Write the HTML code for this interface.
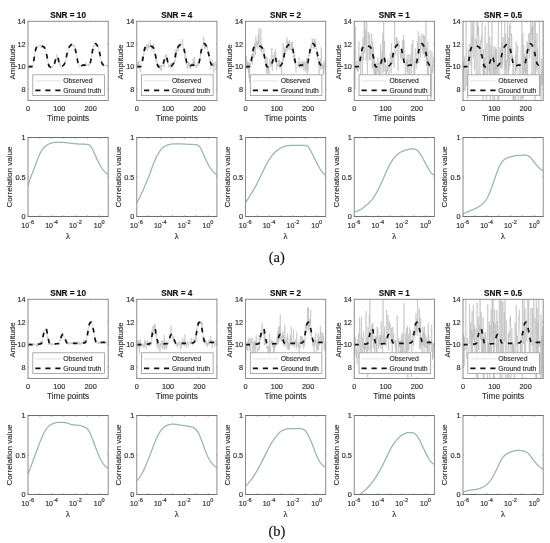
<!DOCTYPE html><html><head><meta charset="utf-8"><style>html,body{margin:0;padding:0;background:#fff;}svg{display:block;}</style></head><body>
<svg width="550" height="543" viewBox="0 0 550 543">
<rect width="550" height="543" fill="#fff"/>
<defs>
<clipPath id="c00"><rect x="28" y="21.3" width="80.2" height="79.2"/></clipPath>
<clipPath id="c01"><rect x="136.75" y="21.3" width="80.2" height="79.2"/></clipPath>
<clipPath id="c02"><rect x="245.5" y="21.3" width="80.2" height="79.2"/></clipPath>
<clipPath id="c03"><rect x="354.25" y="21.3" width="80.2" height="79.2"/></clipPath>
<clipPath id="c04"><rect x="463" y="21.3" width="80.2" height="79.2"/></clipPath>
<clipPath id="c10"><rect x="28" y="137.5" width="80.2" height="79"/></clipPath>
<clipPath id="c11"><rect x="136.75" y="137.5" width="80.2" height="79"/></clipPath>
<clipPath id="c12"><rect x="245.5" y="137.5" width="80.2" height="79"/></clipPath>
<clipPath id="c13"><rect x="354.25" y="137.5" width="80.2" height="79"/></clipPath>
<clipPath id="c14"><rect x="463" y="137.5" width="80.2" height="79"/></clipPath>
<clipPath id="c20"><rect x="28" y="299.3" width="80.2" height="79.2"/></clipPath>
<clipPath id="c21"><rect x="136.75" y="299.3" width="80.2" height="79.2"/></clipPath>
<clipPath id="c22"><rect x="245.5" y="299.3" width="80.2" height="79.2"/></clipPath>
<clipPath id="c23"><rect x="354.25" y="299.3" width="80.2" height="79.2"/></clipPath>
<clipPath id="c24"><rect x="463" y="299.3" width="80.2" height="79.2"/></clipPath>
<clipPath id="c30"><rect x="28" y="415.5" width="80.2" height="79"/></clipPath>
<clipPath id="c31"><rect x="136.75" y="415.5" width="80.2" height="79"/></clipPath>
<clipPath id="c32"><rect x="245.5" y="415.5" width="80.2" height="79"/></clipPath>
<clipPath id="c33"><rect x="354.25" y="415.5" width="80.2" height="79"/></clipPath>
<clipPath id="c34"><rect x="463" y="415.5" width="80.2" height="79"/></clipPath>
</defs>
<style>
.ti{font-family:"Liberation Sans", Arial, Helvetica, sans-serif;font-size:8.2px;font-weight:bold;fill:#111;stroke:#111;stroke-width:0.15;text-anchor:middle}
.yl{font-family:"Liberation Sans", Arial, Helvetica, sans-serif;font-size:7.3px;fill:#333333;stroke:#333333;stroke-width:0.18;text-anchor:end}
.xl{font-family:"Liberation Sans", Arial, Helvetica, sans-serif;font-size:7.3px;fill:#333333;stroke:#333333;stroke-width:0.18;text-anchor:middle}
.sp{font-size:5.6px}
.xe{font-size:7px}
.lb{font-family:"Liberation Sans", Arial, Helvetica, sans-serif;font-size:8.2px;fill:#2a2a2a;stroke:#2a2a2a;stroke-width:0.12;text-anchor:middle}
.lt{font-family:"Liberation Sans", Arial, Helvetica, sans-serif;font-size:6.8px;fill:#333;stroke:#333;stroke-width:0.15}
.lam{font-family:"Liberation Serif", "Times New Roman", serif;font-size:8.3px;fill:#333;stroke:#333;stroke-width:0.2;text-anchor:middle}
.ax{fill:none;stroke:#8c8c8c;stroke-width:1}
.tk{fill:none;stroke:#8c8c8c;stroke-width:0.8}
.mt{fill:none;stroke:#888;stroke-width:0.4}
.hx{fill:none;stroke:#6e6e6e;stroke-width:1.05}
.lg{fill:#fff;stroke:#999;stroke-width:0.8}
.ob{fill:none;stroke:#b8b8b8;stroke-width:0.55;stroke-linejoin:round}
.obl{stroke:#d6d6d6;stroke-width:0.7}
.gt{fill:none;stroke:#111;stroke-width:1.7;stroke-dasharray:4.6 5.4}
.gtl{stroke:#111;stroke-width:1.7;stroke-dasharray:5.2 4.8}
.cv{fill:none;stroke:#95b5b8;stroke-width:1.25;stroke-linejoin:round}
.cap{font-family:"Liberation Serif", "Times New Roman", serif;font-size:14.5px;fill:#111;stroke:#111;stroke-width:0.15;text-anchor:middle}
</style>
<text x="68.1" y="17.7" class="ti">SNR = 10</text>
<g clip-path="url(#c00)">
<polyline points="28.00,67.19 28.31,66.74 28.63,67.30 28.94,68.41 29.25,66.88 29.57,67.25 29.88,65.54 30.19,67.74 30.51,67.50 30.82,65.20 31.13,67.70 31.45,66.27 31.76,67.32 32.07,66.58 32.39,66.48 32.70,65.32 33.01,64.89 33.33,62.89 33.64,60.88 33.95,60.42 34.27,57.95 34.58,56.27 34.89,52.91 35.21,52.47 35.52,50.93 35.83,49.36 36.15,48.32 36.46,46.66 36.77,47.34 37.09,45.82 37.40,45.78 37.71,46.01 38.02,46.38 38.34,47.19 38.65,46.24 38.96,45.25 39.28,45.06 39.59,45.29 39.90,45.04 40.22,46.44 40.53,45.12 40.84,45.68 41.16,48.13 41.47,46.42 41.78,46.41 42.10,46.44 42.41,46.72 42.72,46.70 43.04,46.41 43.35,47.53 43.66,48.03 43.98,46.11 44.29,47.27 44.60,48.34 44.92,48.31 45.23,49.36 45.54,50.15 45.86,50.79 46.17,52.80 46.48,54.10 46.80,54.92 47.11,56.06 47.42,58.81 47.74,60.13 48.05,62.35 48.36,63.53 48.68,67.04 48.99,65.47 49.30,65.36 49.62,66.24 49.93,68.29 50.24,67.59 50.56,66.35 50.87,68.57 51.18,67.54 51.50,66.67 51.81,67.62 52.12,67.03 52.44,67.62 52.75,65.90 53.06,66.36 53.38,65.59 53.69,65.42 54.00,65.39 54.32,64.26 54.63,61.71 54.94,59.25 55.26,62.69 55.57,60.59 55.88,58.96 56.20,57.83 56.51,56.02 56.82,54.38 57.14,55.79 57.45,57.47 57.76,57.02 58.08,58.94 58.39,59.94 58.70,62.84 59.01,62.10 59.33,62.95 59.64,64.79 59.95,65.44 60.27,63.21 60.58,66.20 60.89,67.45 61.21,66.70 61.52,67.29 61.83,65.83 62.15,66.06 62.46,66.25 62.77,66.50 63.09,65.23 63.40,65.64 63.71,64.54 64.03,65.40 64.34,64.19 64.65,63.26 64.97,60.92 65.28,62.59 65.59,60.71 65.91,59.57 66.22,58.95 66.53,54.89 66.85,54.73 67.16,54.72 67.47,52.32 67.79,51.30 68.10,50.91 68.41,47.28 68.73,47.20 69.04,46.96 69.35,46.57 69.67,45.47 69.98,46.84 70.29,45.43 70.61,45.34 70.92,44.15 71.23,45.37 71.55,45.75 71.86,43.12 72.17,44.76 72.49,45.85 72.80,44.76 73.11,45.09 73.43,45.78 73.74,46.42 74.05,45.03 74.37,47.14 74.68,46.67 74.99,45.87 75.31,49.21 75.62,50.61 75.93,50.50 76.25,54.55 76.56,56.05 76.87,56.41 77.19,56.33 77.50,61.28 77.81,63.11 78.12,62.68 78.44,63.63 78.75,64.92 79.06,66.38 79.38,66.74 79.69,65.76 80.00,66.90 80.32,66.48 80.63,65.55 80.94,65.86 81.26,65.94 81.57,66.01 81.88,65.76 82.20,65.62 82.51,64.57 82.82,64.99 83.14,64.52 83.45,66.55 83.76,65.22 84.08,65.37 84.39,64.63 84.70,66.87 85.02,64.63 85.33,65.11 85.64,63.42 85.96,62.31 86.27,64.97 86.58,64.77 86.90,65.82 87.21,65.62 87.52,65.47 87.84,64.97 88.15,64.18 88.46,64.06 88.78,66.46 89.09,63.89 89.40,64.41 89.72,63.80 90.03,64.09 90.34,61.74 90.66,60.92 90.97,59.68 91.28,58.74 91.60,53.46 91.91,53.05 92.22,51.62 92.54,51.81 92.85,49.04 93.16,47.52 93.48,47.49 93.79,44.79 94.10,45.16 94.42,44.96 94.73,45.05 95.04,46.54 95.36,43.38 95.67,43.21 95.98,44.01 96.30,45.02 96.61,45.74 96.92,44.24 97.24,45.71 97.55,46.09 97.86,46.29 98.17,47.09 98.49,47.09 98.80,50.09 99.11,52.00 99.43,52.88 99.74,53.46 100.05,55.41 100.37,55.50 100.68,58.21 100.99,59.67 101.31,60.26 101.62,61.11 101.93,62.95 102.25,64.18 102.56,64.04 102.87,64.58 103.19,64.48 103.50,63.04 103.81,64.85 104.13,65.47 104.44,65.03 104.75,64.89 105.07,65.27 105.38,65.81 105.69,65.06 106.01,65.79 106.32,64.91 106.63,66.09 106.95,65.93 107.26,64.82 107.57,65.23 107.89,65.15 108.20,64.39" class="ob"/>
<polyline points="28.00,66.56 28.31,66.56 28.63,66.56 28.94,66.56 29.25,66.56 29.57,66.56 29.88,66.56 30.19,66.56 30.51,66.56 30.82,66.56 31.13,66.56 31.45,66.56 31.76,66.56 32.07,66.52 32.39,66.40 32.70,66.22 33.01,65.16 33.33,63.18 33.64,61.34 33.95,59.54 34.27,57.68 34.58,55.81 34.89,53.77 35.21,51.72 35.52,50.15 35.83,49.05 36.15,48.11 36.46,47.37 36.77,46.87 37.09,46.52 37.40,46.21 37.71,45.96 38.02,45.80 38.34,45.74 38.65,45.74 38.96,45.75 39.28,45.76 39.59,45.77 39.90,45.79 40.22,45.81 40.53,45.83 40.84,45.85 41.16,45.89 41.47,45.96 41.78,46.05 42.10,46.15 42.41,46.27 42.72,46.40 43.04,46.53 43.35,46.67 43.66,46.84 43.98,47.06 44.29,47.32 44.60,47.72 44.92,48.29 45.23,49.02 45.54,50.11 45.86,51.54 46.17,52.98 46.48,54.26 46.80,55.54 47.11,56.94 47.42,58.70 47.74,60.68 48.05,62.47 48.36,63.76 48.68,64.89 48.99,65.80 49.30,66.33 49.62,66.60 49.93,66.82 50.24,66.96 50.56,67.01 50.87,67.01 51.18,66.99 51.50,66.97 51.81,66.94 52.12,66.90 52.44,66.84 52.75,66.78 53.06,66.57 53.38,66.11 53.69,65.51 54.00,64.86 54.32,64.05 54.63,63.02 54.94,61.92 55.26,60.90 55.57,59.87 55.88,58.72 56.20,57.63 56.51,56.74 56.82,56.22 57.14,56.19 57.45,56.49 57.76,56.94 58.08,57.82 58.39,59.22 58.70,60.75 59.01,62.03 59.33,63.09 59.64,64.12 59.95,64.95 60.27,65.43 60.58,65.65 60.89,65.84 61.21,65.98 61.52,66.07 61.83,66.10 62.15,66.05 62.46,65.91 62.77,65.71 63.09,65.46 63.40,65.20 63.71,64.89 64.03,64.49 64.34,64.00 64.65,63.43 64.97,62.77 65.28,62.03 65.59,60.99 65.91,59.53 66.22,57.83 66.53,56.05 66.85,54.38 67.16,52.98 67.47,51.78 67.79,50.62 68.10,49.55 68.41,48.63 68.73,47.89 69.04,47.30 69.35,46.78 69.67,46.34 69.98,45.95 70.29,45.63 70.61,45.32 70.92,45.02 71.23,44.81 71.55,44.72 71.86,44.75 72.17,44.83 72.49,44.96 72.80,45.13 73.11,45.31 73.43,45.51 73.74,45.76 74.05,46.10 74.37,46.54 74.68,47.10 74.99,47.99 75.31,49.29 75.62,50.72 75.93,52.31 76.25,54.09 76.56,55.81 76.87,57.38 77.19,58.89 77.50,60.33 77.81,61.82 78.12,63.25 78.44,64.29 78.75,65.03 79.06,65.69 79.38,66.15 79.69,66.33 80.00,66.30 80.32,66.22 80.63,66.12 80.94,65.99 81.26,65.88 81.57,65.74 81.88,65.57 82.20,65.40 82.51,65.26 82.82,65.20 83.14,65.18 83.45,65.17 83.76,65.16 84.08,65.16 84.39,65.15 84.70,65.15 85.02,65.14 85.33,65.14 85.64,65.14 85.96,65.13 86.27,65.13 86.58,65.12 86.90,65.11 87.21,65.10 87.52,65.09 87.84,65.06 88.15,65.00 88.46,64.92 88.78,64.81 89.09,64.67 89.40,64.50 89.72,64.29 90.03,63.73 90.34,62.62 90.66,61.15 90.97,59.53 91.28,57.96 91.60,56.28 91.91,54.35 92.22,52.36 92.54,50.52 92.85,49.02 93.16,47.79 93.48,46.68 93.79,45.74 94.10,45.06 94.42,44.53 94.73,44.06 95.04,43.72 95.36,43.59 95.67,43.67 95.98,43.88 96.30,44.17 96.61,44.49 96.92,44.90 97.24,45.43 97.55,46.06 97.86,46.76 98.17,47.57 98.49,48.53 98.80,49.59 99.11,50.72 99.43,51.97 99.74,53.30 100.05,54.68 100.37,56.23 100.68,57.94 100.99,59.57 101.31,60.90 101.62,61.98 101.93,62.97 102.25,63.77 102.56,64.29 102.87,64.64 103.19,64.93 103.50,65.12 103.81,65.20 104.13,65.20 104.44,65.20 104.75,65.20 105.07,65.20 105.38,65.20 105.69,65.20 106.01,65.20 106.32,65.20 106.63,65.20 106.95,65.20 107.26,65.20 107.57,65.20 107.89,65.20 108.20,65.20" class="gt"/>
</g>
<rect x="32.8" y="74.8" width="71.6" height="20.8" class="lg"/>
<line x1="35.3" x2="60.7" y1="80.9" y2="80.9" class="obl"/>
<line x1="35.3" x2="60.7" y1="90.4" y2="90.4" class="gtl"/>
<text x="63.2" y="83.3" class="lt">Observed</text>
<text x="63.2" y="92.8" class="lt">Ground truth</text>
<rect x="28" y="21.3" width="80.2" height="79.2" class="ax"/>
<path d="M28 89.19h0.9M108.2 89.19h-0.9M28 66.56h0.9M108.2 66.56h-0.9M28 43.93h0.9M108.2 43.93h-0.9M28 21.3h0.9M108.2 21.3h-0.9M28 100.5v-0.9M28 21.3v0.9M59.33 100.5v-0.9M59.33 21.3v0.9M90.66 100.5v-0.9M90.66 21.3v0.9" class="tk"/>
<text x="25.6" y="91.79" class="yl">8</text>
<text x="25.6" y="69.16" class="yl">10</text>
<text x="25.6" y="46.53" class="yl">12</text>
<text x="25.6" y="23.9" class="yl">14</text>
<text x="28" y="110.6" class="xl">0</text>
<text x="59.33" y="110.6" class="xl">100</text>
<text x="90.66" y="110.6" class="xl">200</text>
<text x="68.1" y="121" class="lb">Time points</text>
<text transform="translate(14.6 61.9) rotate(-90)" class="lb" style="font-size:7.9px">Amplitude</text>
<g clip-path="url(#c10)"><polyline points="28.00,185.77 28.50,184.10 29.00,182.48 29.50,180.91 30.00,179.40 30.51,177.94 31.01,176.55 31.51,175.21 32.01,173.93 32.51,172.69 33.01,171.46 33.51,170.22 34.02,168.95 34.52,167.64 35.02,166.29 35.52,164.91 36.02,163.51 36.52,162.11 37.02,160.74 37.52,159.40 38.02,158.10 38.53,156.84 39.03,155.62 39.53,154.47 40.03,153.40 40.53,152.42 41.03,151.53 41.53,150.72 42.04,149.97 42.54,149.28 43.04,148.64 43.54,148.04 44.04,147.49 44.54,146.99 45.04,146.53 45.54,146.11 46.05,145.74 46.55,145.39 47.05,145.06 47.55,144.76 48.05,144.46 48.55,144.19 49.05,143.93 49.55,143.69 50.06,143.48 50.56,143.28 51.06,143.11 51.56,142.97 52.06,142.84 52.56,142.74 53.06,142.65 53.56,142.58 54.06,142.51 54.57,142.45 55.07,142.40 55.57,142.35 56.07,142.32 56.57,142.29 57.07,142.27 57.57,142.26 58.08,142.25 58.58,142.25 59.08,142.26 59.58,142.27 60.08,142.29 60.58,142.31 61.08,142.33 61.58,142.35 62.09,142.37 62.59,142.40 63.09,142.42 63.59,142.45 64.09,142.48 64.59,142.52 65.09,142.56 65.59,142.61 66.09,142.66 66.60,142.71 67.10,142.77 67.60,142.83 68.10,142.89 68.60,142.95 69.10,143.02 69.60,143.08 70.11,143.14 70.61,143.20 71.11,143.26 71.61,143.32 72.11,143.38 72.61,143.44 73.11,143.51 73.61,143.57 74.12,143.63 74.62,143.69 75.12,143.74 75.62,143.80 76.12,143.85 76.62,143.89 77.12,143.93 77.62,143.96 78.12,143.99 78.63,144.02 79.13,144.04 79.63,144.06 80.13,144.08 80.63,144.10 81.13,144.11 81.63,144.13 82.14,144.15 82.64,144.16 83.14,144.18 83.64,144.20 84.14,144.21 84.64,144.23 85.14,144.25 85.64,144.27 86.15,144.29 86.65,144.32 87.15,144.36 87.65,144.42 88.15,144.52 88.65,144.66 89.15,144.88 89.65,145.19 90.16,145.63 90.66,146.19 91.16,146.90 91.66,147.73 92.16,148.67 92.66,149.69 93.16,150.75 93.66,151.83 94.17,152.93 94.67,154.03 95.17,155.14 95.67,156.23 96.17,157.32 96.67,158.39 97.17,159.46 97.67,160.51 98.17,161.54 98.68,162.55 99.18,163.53 99.68,164.48 100.18,165.38 100.68,166.25 101.18,167.08 101.68,167.87 102.19,168.62 102.69,169.32 103.19,169.98 103.69,170.58 104.19,171.13 104.69,171.64 105.19,172.12 105.69,172.57 106.20,172.98 106.70,173.37 107.20,173.74 107.70,174.09 108.20,174.47" class="cv"/></g>
<rect x="28" y="137.5" width="80.2" height="79" class="ax"/>
<path d="M28 216.5h0.9M108.2 216.5h-0.9M28 177h0.9M108.2 177h-0.9M28 137.5h0.9M108.2 137.5h-0.9M28 216.5v-1.2M28 137.5v1.2M39.93 216.5v-1.2M39.93 137.5v1.2M51.86 216.5v-1.2M51.86 137.5v1.2M63.79 216.5v-1.2M63.79 137.5v1.2M75.72 216.5v-1.2M75.72 137.5v1.2M87.65 216.5v-1.2M87.65 137.5v1.2M99.58 216.5v-1.2M99.58 137.5v1.2" class="tk"/>
<path d="M31.59 216.5v-0.6M31.59 137.5v0.6M33.69 216.5v-0.6M33.69 137.5v0.6M35.18 216.5v-0.6M35.18 137.5v0.6M36.34 216.5v-0.6M36.34 137.5v0.6M37.28 216.5v-0.6M37.28 137.5v0.6M38.08 216.5v-0.6M38.08 137.5v0.6M38.77 216.5v-0.6M38.77 137.5v0.6M39.38 216.5v-0.6M39.38 137.5v0.6M43.52 216.5v-0.6M43.52 137.5v0.6M45.62 216.5v-0.6M45.62 137.5v0.6M47.11 216.5v-0.6M47.11 137.5v0.6M48.27 216.5v-0.6M48.27 137.5v0.6M49.21 216.5v-0.6M49.21 137.5v0.6M50.01 216.5v-0.6M50.01 137.5v0.6M50.70 216.5v-0.6M50.70 137.5v0.6M51.31 216.5v-0.6M51.31 137.5v0.6M55.45 216.5v-0.6M55.45 137.5v0.6M57.55 216.5v-0.6M57.55 137.5v0.6M59.04 216.5v-0.6M59.04 137.5v0.6M60.20 216.5v-0.6M60.20 137.5v0.6M61.14 216.5v-0.6M61.14 137.5v0.6M61.94 216.5v-0.6M61.94 137.5v0.6M62.63 216.5v-0.6M62.63 137.5v0.6M63.24 216.5v-0.6M63.24 137.5v0.6M67.38 216.5v-0.6M67.38 137.5v0.6M69.48 216.5v-0.6M69.48 137.5v0.6M70.97 216.5v-0.6M70.97 137.5v0.6M72.13 216.5v-0.6M72.13 137.5v0.6M73.07 216.5v-0.6M73.07 137.5v0.6M73.87 216.5v-0.6M73.87 137.5v0.6M74.56 216.5v-0.6M74.56 137.5v0.6M75.17 216.5v-0.6M75.17 137.5v0.6M79.31 216.5v-0.6M79.31 137.5v0.6M81.41 216.5v-0.6M81.41 137.5v0.6M82.90 216.5v-0.6M82.90 137.5v0.6M84.06 216.5v-0.6M84.06 137.5v0.6M85.00 216.5v-0.6M85.00 137.5v0.6M85.80 216.5v-0.6M85.80 137.5v0.6M86.49 216.5v-0.6M86.49 137.5v0.6M87.10 216.5v-0.6M87.10 137.5v0.6M91.24 216.5v-0.6M91.24 137.5v0.6M93.34 216.5v-0.6M93.34 137.5v0.6M94.83 216.5v-0.6M94.83 137.5v0.6M95.99 216.5v-0.6M95.99 137.5v0.6M96.93 216.5v-0.6M96.93 137.5v0.6M97.73 216.5v-0.6M97.73 137.5v0.6M98.42 216.5v-0.6M98.42 137.5v0.6M99.03 216.5v-0.6M99.03 137.5v0.6M103.17 216.5v-0.6M103.17 137.5v0.6M105.27 216.5v-0.6M105.27 137.5v0.6M106.76 216.5v-0.6M106.76 137.5v0.6" class="mt"/>
<path d="M28 137.5H108.2M28 216.5H108.2" class="hx"/>
<text x="25.6" y="219.1" class="yl">0</text>
<text x="25.6" y="179.6" class="yl">0.5</text>
<text x="25.6" y="140.1" class="yl">1</text>
<text x="27.7" y="228.3" class="xl xe">10<tspan class="sp" dy="-4">-6</tspan></text>
<text x="51.56" y="228.3" class="xl xe">10<tspan class="sp" dy="-4">-4</tspan></text>
<text x="75.42" y="228.3" class="xl xe">10<tspan class="sp" dy="-4">-2</tspan></text>
<text x="99.28" y="228.3" class="xl xe">10<tspan class="sp" dy="-4">0</tspan></text>
<text x="68.1" y="238.5" class="lam">λ</text>
<text transform="translate(12.3 177) rotate(-90)" class="lb" style="font-size:8.1px">Correlation value</text>
<text x="68.1" y="295.7" class="ti">SNR = 10</text>
<g clip-path="url(#c20)">
<polyline points="28.00,344.69 28.31,347.23 28.63,344.43 28.94,343.97 29.25,343.84 29.57,345.39 29.88,343.13 30.19,344.70 30.51,343.27 30.82,343.17 31.13,344.86 31.45,344.74 31.76,344.36 32.07,344.69 32.39,344.50 32.70,345.71 33.01,343.47 33.33,343.09 33.64,345.02 33.95,344.35 34.27,344.78 34.58,343.67 34.89,344.82 35.21,345.28 35.52,345.24 35.83,344.75 36.15,344.49 36.46,344.19 36.77,347.23 37.09,343.46 37.40,345.50 37.71,343.86 38.02,346.52 38.34,344.59 38.65,345.00 38.96,344.05 39.28,343.52 39.59,343.39 39.90,343.49 40.22,343.34 40.53,340.99 40.84,344.52 41.16,343.66 41.47,342.85 41.78,341.43 42.10,344.31 42.41,340.20 42.72,338.94 43.04,336.26 43.35,335.28 43.66,333.53 43.98,332.37 44.29,330.85 44.60,330.11 44.92,330.50 45.23,328.98 45.54,328.76 45.86,328.14 46.17,329.10 46.48,328.55 46.80,330.45 47.11,333.34 47.42,334.26 47.74,339.04 48.05,336.90 48.36,338.66 48.68,340.04 48.99,344.87 49.30,340.56 49.62,344.28 49.93,343.08 50.24,343.36 50.56,343.84 50.87,343.65 51.18,343.38 51.50,345.68 51.81,343.21 52.12,343.63 52.44,343.65 52.75,343.83 53.06,344.45 53.38,343.94 53.69,345.38 54.00,344.03 54.32,344.47 54.63,343.64 54.94,343.51 55.26,344.00 55.57,344.80 55.88,343.32 56.20,343.97 56.51,344.14 56.82,344.15 57.14,343.53 57.45,343.90 57.76,342.82 58.08,343.87 58.39,343.73 58.70,343.19 59.01,343.60 59.33,342.68 59.64,341.37 59.95,339.43 60.27,340.98 60.58,340.03 60.89,338.59 61.21,337.18 61.52,337.20 61.83,335.79 62.15,334.19 62.46,332.79 62.77,336.19 63.09,334.63 63.40,334.80 63.71,335.47 64.03,335.62 64.34,336.58 64.65,337.29 64.97,338.46 65.28,339.19 65.59,340.92 65.91,340.51 66.22,340.42 66.53,341.94 66.85,342.25 67.16,341.14 67.47,342.49 67.79,342.88 68.10,343.63 68.41,342.19 68.73,344.97 69.04,343.79 69.35,344.23 69.67,342.84 69.98,343.95 70.29,342.56 70.61,343.25 70.92,343.79 71.23,342.72 71.55,343.73 71.86,342.35 72.17,343.39 72.49,343.71 72.80,342.53 73.11,342.91 73.43,343.70 73.74,342.44 74.05,341.53 74.37,342.92 74.68,343.77 74.99,343.86 75.31,343.19 75.62,343.45 75.93,343.39 76.25,343.82 76.56,343.50 76.87,343.24 77.19,341.38 77.50,343.59 77.81,343.46 78.12,343.47 78.44,343.07 78.75,344.52 79.06,343.92 79.38,341.56 79.69,343.06 80.00,344.85 80.32,342.95 80.63,343.33 80.94,343.51 81.26,344.53 81.57,342.71 81.88,341.64 82.20,342.87 82.51,342.58 82.82,343.69 83.14,343.56 83.45,342.80 83.76,342.31 84.08,339.72 84.39,342.60 84.70,341.53 85.02,340.72 85.33,344.28 85.64,341.67 85.96,341.82 86.27,341.63 86.58,339.90 86.90,337.91 87.21,335.40 87.52,334.73 87.84,332.65 88.15,327.39 88.46,328.30 88.78,327.95 89.09,324.69 89.40,325.80 89.72,323.15 90.03,323.59 90.34,323.28 90.66,322.47 90.97,321.22 91.28,322.40 91.60,322.60 91.91,323.84 92.22,324.92 92.54,325.34 92.85,328.14 93.16,328.87 93.48,330.29 93.79,332.11 94.10,331.17 94.42,334.85 94.73,336.79 95.04,338.04 95.36,343.05 95.67,340.52 95.98,342.14 96.30,340.47 96.61,343.14 96.92,343.56 97.24,343.64 97.55,342.55 97.86,342.06 98.17,343.51 98.49,343.79 98.80,341.26 99.11,343.78 99.43,343.42 99.74,342.12 100.05,341.90 100.37,343.34 100.68,343.89 100.99,342.06 101.31,342.39 101.62,342.26 101.93,342.14 102.25,342.50 102.56,342.09 102.87,343.12 103.19,342.28 103.50,342.76 103.81,341.21 104.13,343.50 104.44,343.67 104.75,342.20 105.07,342.34 105.38,342.62 105.69,342.93 106.01,343.65 106.32,341.66 106.63,343.34 106.95,342.54 107.26,342.23 107.57,341.86 107.89,342.17 108.20,341.27" class="ob"/>
<polyline points="28.00,344.56 28.31,344.56 28.63,344.56 28.94,344.56 29.25,344.56 29.57,344.56 29.88,344.56 30.19,344.56 30.51,344.56 30.82,344.56 31.13,344.56 31.45,344.56 31.76,344.56 32.07,344.56 32.39,344.56 32.70,344.56 33.01,344.56 33.33,344.56 33.64,344.56 33.95,344.56 34.27,344.56 34.58,344.55 34.89,344.53 35.21,344.51 35.52,344.47 35.83,344.43 36.15,344.39 36.46,344.34 36.77,344.30 37.09,344.25 37.40,344.22 37.71,344.19 38.02,344.16 38.34,344.14 38.65,344.11 38.96,344.09 39.28,344.06 39.59,344.03 39.90,343.99 40.22,343.94 40.53,343.88 40.84,343.76 41.16,343.55 41.47,343.25 41.78,342.86 42.10,341.92 42.41,340.28 42.72,338.37 43.04,336.64 43.35,335.06 43.66,333.48 43.98,332.10 44.29,331.05 44.60,330.13 44.92,329.38 45.23,328.94 45.54,328.73 45.86,328.61 46.17,328.77 46.48,329.42 46.80,330.55 47.11,332.67 47.42,334.43 47.74,336.08 48.05,337.63 48.36,339.04 48.68,340.34 48.99,341.67 49.30,342.79 49.62,343.43 49.93,343.70 50.24,343.91 50.56,344.05 50.87,344.10 51.18,344.10 51.50,344.10 51.81,344.10 52.12,344.10 52.44,344.10 52.75,344.10 53.06,344.10 53.38,344.10 53.69,344.08 54.00,344.04 54.32,344.00 54.63,343.96 54.94,343.91 55.26,343.87 55.57,343.83 55.88,343.79 56.20,343.77 56.51,343.75 56.82,343.74 57.14,343.73 57.45,343.72 57.76,343.71 58.08,343.70 58.39,343.68 58.70,343.65 59.01,343.42 59.33,342.91 59.64,342.29 59.95,341.50 60.27,340.45 60.58,339.30 60.89,338.22 61.21,337.11 61.52,336.01 61.83,335.28 62.15,334.89 62.46,334.60 62.77,334.49 63.09,334.70 63.40,335.18 63.71,335.73 64.03,336.31 64.34,337.01 64.65,337.77 64.97,338.56 65.28,339.33 65.59,340.07 65.91,340.91 66.22,341.75 66.53,342.44 66.85,342.86 67.16,343.08 67.47,343.27 67.79,343.43 68.10,343.55 68.41,343.63 68.73,343.65 69.04,343.65 69.35,343.63 69.67,343.60 69.98,343.57 70.29,343.54 70.61,343.51 70.92,343.47 71.23,343.45 71.55,343.43 71.86,343.43 72.17,343.43 72.49,343.43 72.80,343.43 73.11,343.43 73.43,343.43 73.74,343.43 74.05,343.43 74.37,343.43 74.68,343.43 74.99,343.43 75.31,343.43 75.62,343.43 75.93,343.43 76.25,343.43 76.56,343.43 76.87,343.43 77.19,343.43 77.50,343.43 77.81,343.42 78.12,343.41 78.44,343.38 78.75,343.35 79.06,343.32 79.38,343.28 79.69,343.25 80.00,343.21 80.32,343.17 80.63,343.14 80.94,343.11 81.26,343.09 81.57,343.07 81.88,343.06 82.20,343.05 82.51,343.04 82.82,343.03 83.14,343.01 83.45,343.00 83.76,342.97 84.08,342.92 84.39,342.83 84.70,342.69 85.02,342.51 85.33,342.29 85.64,341.94 85.96,341.36 86.27,340.60 86.58,339.69 86.90,338.29 87.21,336.32 87.52,334.21 87.84,332.29 88.15,330.26 88.46,328.23 88.78,326.44 89.09,325.10 89.40,324.12 89.72,323.32 90.03,322.83 90.34,322.55 90.66,322.35 90.97,322.27 91.28,322.48 91.60,322.99 91.91,323.63 92.22,324.50 92.54,325.72 92.85,327.14 93.16,328.60 93.48,330.16 93.79,331.88 94.10,333.63 94.42,335.38 94.73,337.29 95.04,339.08 95.36,340.37 95.67,341.25 95.98,342.02 96.30,342.65 96.61,343.06 96.92,343.23 97.24,343.31 97.55,343.37 97.86,343.41 98.17,343.43 98.49,343.41 98.80,343.35 99.11,343.27 99.43,343.17 99.74,343.05 100.05,342.93 100.37,342.79 100.68,342.67 100.99,342.55 101.31,342.45 101.62,342.37 101.93,342.31 102.25,342.29 102.56,342.29 102.87,342.29 103.19,342.29 103.50,342.29 103.81,342.29 104.13,342.29 104.44,342.29 104.75,342.29 105.07,342.29 105.38,342.29 105.69,342.29 106.01,342.29 106.32,342.29 106.63,342.29 106.95,342.29 107.26,342.29 107.57,342.29 107.89,342.29 108.20,342.29" class="gt"/>
</g>
<rect x="32.8" y="352.8" width="71.6" height="20.8" class="lg"/>
<line x1="35.3" x2="60.7" y1="358.9" y2="358.9" class="obl"/>
<line x1="35.3" x2="60.7" y1="368.4" y2="368.4" class="gtl"/>
<text x="63.2" y="361.3" class="lt">Observed</text>
<text x="63.2" y="370.8" class="lt">Ground truth</text>
<rect x="28" y="299.3" width="80.2" height="79.2" class="ax"/>
<path d="M28 367.19h0.9M108.2 367.19h-0.9M28 344.56h0.9M108.2 344.56h-0.9M28 321.93h0.9M108.2 321.93h-0.9M28 299.3h0.9M108.2 299.3h-0.9M28 378.5v-0.9M28 299.3v0.9M59.33 378.5v-0.9M59.33 299.3v0.9M90.66 378.5v-0.9M90.66 299.3v0.9" class="tk"/>
<text x="25.6" y="369.79" class="yl">8</text>
<text x="25.6" y="347.16" class="yl">10</text>
<text x="25.6" y="324.53" class="yl">12</text>
<text x="25.6" y="301.9" class="yl">14</text>
<text x="28" y="388.6" class="xl">0</text>
<text x="59.33" y="388.6" class="xl">100</text>
<text x="90.66" y="388.6" class="xl">200</text>
<text x="68.1" y="399" class="lb">Time points</text>
<text transform="translate(14.6 339.9) rotate(-90)" class="lb" style="font-size:7.9px">Amplitude</text>
<g clip-path="url(#c30)"><polyline points="28.00,474.36 28.50,472.98 29.00,471.60 29.50,470.23 30.00,468.86 30.51,467.50 31.01,466.14 31.51,464.78 32.01,463.43 32.51,462.09 33.01,460.74 33.51,459.41 34.02,458.07 34.52,456.73 35.02,455.39 35.52,454.05 36.02,452.69 36.52,451.34 37.02,449.97 37.52,448.61 38.02,447.26 38.53,445.92 39.03,444.60 39.53,443.30 40.03,442.01 40.53,440.75 41.03,439.50 41.53,438.28 42.04,437.09 42.54,435.94 43.04,434.84 43.54,433.80 44.04,432.82 44.54,431.89 45.04,431.00 45.54,430.16 46.05,429.36 46.55,428.63 47.05,427.96 47.55,427.36 48.05,426.83 48.55,426.35 49.05,425.92 49.55,425.52 50.06,425.16 50.56,424.82 51.06,424.50 51.56,424.22 52.06,423.96 52.56,423.74 53.06,423.54 53.56,423.36 54.06,423.20 54.57,423.06 55.07,422.93 55.57,422.80 56.07,422.69 56.57,422.59 57.07,422.50 57.57,422.43 58.08,422.38 58.58,422.34 59.08,422.32 59.58,422.31 60.08,422.31 60.58,422.32 61.08,422.34 61.58,422.36 62.09,422.39 62.59,422.41 63.09,422.44 63.59,422.48 64.09,422.52 64.59,422.56 65.09,422.62 65.59,422.69 66.09,422.78 66.60,422.90 67.10,423.04 67.60,423.20 68.10,423.38 68.60,423.56 69.10,423.75 69.60,423.93 70.11,424.11 70.61,424.27 71.11,424.42 71.61,424.54 72.11,424.64 72.61,424.72 73.11,424.79 73.61,424.85 74.12,424.90 74.62,424.95 75.12,424.99 75.62,425.03 76.12,425.08 76.62,425.12 77.12,425.17 77.62,425.23 78.12,425.29 78.63,425.36 79.13,425.44 79.63,425.54 80.13,425.64 80.63,425.76 81.13,425.89 81.63,426.04 82.14,426.19 82.64,426.36 83.14,426.54 83.64,426.73 84.14,426.94 84.64,427.16 85.14,427.41 85.64,427.68 86.15,427.99 86.65,428.34 87.15,428.76 87.65,429.25 88.15,429.84 88.65,430.55 89.15,431.39 89.65,432.34 90.16,433.39 90.66,434.51 91.16,435.68 91.66,436.90 92.16,438.16 92.66,439.48 93.16,440.83 93.66,442.20 94.17,443.58 94.67,444.95 95.17,446.31 95.67,447.66 96.17,449.00 96.67,450.32 97.17,451.61 97.67,452.86 98.17,454.08 98.68,455.25 99.18,456.39 99.68,457.50 100.18,458.57 100.68,459.58 101.18,460.54 101.68,461.43 102.19,462.26 102.69,463.02 103.19,463.73 103.69,464.38 104.19,464.99 104.69,465.56 105.19,466.09 105.69,466.57 106.20,467.01 106.70,467.41 107.20,467.76 107.70,468.08 108.20,468.35" class="cv"/></g>
<rect x="28" y="415.5" width="80.2" height="79" class="ax"/>
<path d="M28 494.5h0.9M108.2 494.5h-0.9M28 455h0.9M108.2 455h-0.9M28 415.5h0.9M108.2 415.5h-0.9M28 494.5v-1.2M28 415.5v1.2M39.93 494.5v-1.2M39.93 415.5v1.2M51.86 494.5v-1.2M51.86 415.5v1.2M63.79 494.5v-1.2M63.79 415.5v1.2M75.72 494.5v-1.2M75.72 415.5v1.2M87.65 494.5v-1.2M87.65 415.5v1.2M99.58 494.5v-1.2M99.58 415.5v1.2" class="tk"/>
<path d="M31.59 494.5v-0.6M31.59 415.5v0.6M33.69 494.5v-0.6M33.69 415.5v0.6M35.18 494.5v-0.6M35.18 415.5v0.6M36.34 494.5v-0.6M36.34 415.5v0.6M37.28 494.5v-0.6M37.28 415.5v0.6M38.08 494.5v-0.6M38.08 415.5v0.6M38.77 494.5v-0.6M38.77 415.5v0.6M39.38 494.5v-0.6M39.38 415.5v0.6M43.52 494.5v-0.6M43.52 415.5v0.6M45.62 494.5v-0.6M45.62 415.5v0.6M47.11 494.5v-0.6M47.11 415.5v0.6M48.27 494.5v-0.6M48.27 415.5v0.6M49.21 494.5v-0.6M49.21 415.5v0.6M50.01 494.5v-0.6M50.01 415.5v0.6M50.70 494.5v-0.6M50.70 415.5v0.6M51.31 494.5v-0.6M51.31 415.5v0.6M55.45 494.5v-0.6M55.45 415.5v0.6M57.55 494.5v-0.6M57.55 415.5v0.6M59.04 494.5v-0.6M59.04 415.5v0.6M60.20 494.5v-0.6M60.20 415.5v0.6M61.14 494.5v-0.6M61.14 415.5v0.6M61.94 494.5v-0.6M61.94 415.5v0.6M62.63 494.5v-0.6M62.63 415.5v0.6M63.24 494.5v-0.6M63.24 415.5v0.6M67.38 494.5v-0.6M67.38 415.5v0.6M69.48 494.5v-0.6M69.48 415.5v0.6M70.97 494.5v-0.6M70.97 415.5v0.6M72.13 494.5v-0.6M72.13 415.5v0.6M73.07 494.5v-0.6M73.07 415.5v0.6M73.87 494.5v-0.6M73.87 415.5v0.6M74.56 494.5v-0.6M74.56 415.5v0.6M75.17 494.5v-0.6M75.17 415.5v0.6M79.31 494.5v-0.6M79.31 415.5v0.6M81.41 494.5v-0.6M81.41 415.5v0.6M82.90 494.5v-0.6M82.90 415.5v0.6M84.06 494.5v-0.6M84.06 415.5v0.6M85.00 494.5v-0.6M85.00 415.5v0.6M85.80 494.5v-0.6M85.80 415.5v0.6M86.49 494.5v-0.6M86.49 415.5v0.6M87.10 494.5v-0.6M87.10 415.5v0.6M91.24 494.5v-0.6M91.24 415.5v0.6M93.34 494.5v-0.6M93.34 415.5v0.6M94.83 494.5v-0.6M94.83 415.5v0.6M95.99 494.5v-0.6M95.99 415.5v0.6M96.93 494.5v-0.6M96.93 415.5v0.6M97.73 494.5v-0.6M97.73 415.5v0.6M98.42 494.5v-0.6M98.42 415.5v0.6M99.03 494.5v-0.6M99.03 415.5v0.6M103.17 494.5v-0.6M103.17 415.5v0.6M105.27 494.5v-0.6M105.27 415.5v0.6M106.76 494.5v-0.6M106.76 415.5v0.6" class="mt"/>
<path d="M28 415.5H108.2M28 494.5H108.2" class="hx"/>
<text x="25.6" y="497.1" class="yl">0</text>
<text x="25.6" y="457.6" class="yl">0.5</text>
<text x="25.6" y="418.1" class="yl">1</text>
<text x="27.7" y="506.3" class="xl xe">10<tspan class="sp" dy="-4">-6</tspan></text>
<text x="51.56" y="506.3" class="xl xe">10<tspan class="sp" dy="-4">-4</tspan></text>
<text x="75.42" y="506.3" class="xl xe">10<tspan class="sp" dy="-4">-2</tspan></text>
<text x="99.28" y="506.3" class="xl xe">10<tspan class="sp" dy="-4">0</tspan></text>
<text x="68.1" y="516.5" class="lam">λ</text>
<text transform="translate(12.3 455) rotate(-90)" class="lb" style="font-size:8.1px">Correlation value</text>
<text x="176.85" y="17.7" class="ti">SNR = 4</text>
<g clip-path="url(#c01)">
<polyline points="136.75,66.31 137.06,63.92 137.38,64.21 137.69,66.02 138.00,67.30 138.32,62.00 138.63,68.80 138.94,60.16 139.26,66.85 139.57,66.95 139.88,66.51 140.20,72.05 140.51,70.39 140.82,68.45 141.14,67.49 141.45,67.03 141.76,65.33 142.08,56.53 142.39,59.65 142.70,57.29 143.02,59.55 143.33,56.54 143.64,53.51 143.96,54.99 144.27,48.83 144.58,47.04 144.90,47.60 145.21,50.15 145.52,47.27 145.84,50.54 146.15,48.02 146.46,43.94 146.78,45.52 147.09,45.63 147.40,50.67 147.71,48.31 148.03,44.70 148.34,47.95 148.65,44.08 148.97,46.07 149.28,48.03 149.59,47.85 149.91,44.61 150.22,40.29 150.53,46.36 150.85,46.60 151.16,45.78 151.47,47.40 151.79,47.45 152.10,50.57 152.41,48.00 152.73,44.97 153.04,45.60 153.35,43.77 153.67,47.04 153.98,45.54 154.29,53.85 154.61,53.44 154.92,52.99 155.23,55.91 155.55,56.90 155.86,61.78 156.17,57.71 156.49,60.03 156.80,61.85 157.11,64.14 157.43,64.45 157.74,65.91 158.05,66.55 158.37,65.40 158.68,68.23 158.99,66.95 159.31,64.70 159.62,66.69 159.93,65.77 160.25,70.43 160.56,65.26 160.87,66.26 161.19,64.75 161.50,71.13 161.81,67.21 162.13,65.63 162.44,66.25 162.75,66.04 163.07,66.17 163.38,62.86 163.69,60.04 164.01,65.00 164.32,67.43 164.63,60.63 164.95,56.38 165.26,55.24 165.57,54.96 165.89,56.53 166.20,59.30 166.51,54.10 166.82,58.74 167.14,61.47 167.45,63.63 167.76,61.87 168.08,60.34 168.39,64.11 168.70,67.33 169.02,66.93 169.33,64.69 169.64,65.89 169.96,67.14 170.27,64.17 170.58,63.36 170.90,67.65 171.21,68.19 171.52,62.83 171.84,63.60 172.15,63.48 172.46,66.00 172.78,67.98 173.09,63.25 173.40,63.31 173.72,62.77 174.03,62.25 174.34,64.03 174.66,60.32 174.97,62.11 175.28,54.10 175.60,52.57 175.91,49.38 176.22,57.58 176.54,49.60 176.85,53.48 177.16,47.22 177.48,49.21 177.79,47.82 178.10,47.36 178.42,50.96 178.73,46.62 179.04,46.84 179.36,46.26 179.67,43.71 179.98,43.81 180.30,47.61 180.61,45.08 180.92,44.08 181.24,44.41 181.55,44.95 181.86,45.40 182.18,43.54 182.49,39.04 182.80,44.89 183.12,46.92 183.43,46.90 183.74,47.86 184.06,49.87 184.37,50.86 184.68,51.24 185.00,58.80 185.31,53.31 185.62,54.76 185.94,59.39 186.25,57.60 186.56,63.89 186.88,64.11 187.19,69.12 187.50,65.03 187.81,64.66 188.13,65.11 188.44,61.93 188.75,66.52 189.07,67.50 189.38,62.46 189.69,67.98 190.01,66.19 190.32,66.48 190.63,68.87 190.95,67.27 191.26,65.12 191.57,65.41 191.89,63.37 192.20,62.97 192.51,62.84 192.83,65.77 193.14,58.82 193.45,66.82 193.77,62.01 194.08,66.59 194.39,57.05 194.71,62.80 195.02,62.57 195.33,64.12 195.65,65.40 195.96,67.76 196.27,68.12 196.59,64.82 196.90,66.60 197.21,64.74 197.53,62.82 197.84,65.44 198.15,65.07 198.47,65.84 198.78,61.19 199.09,60.54 199.41,61.81 199.72,60.63 200.03,60.24 200.35,53.47 200.66,55.63 200.97,51.52 201.29,50.51 201.60,50.53 201.91,47.17 202.23,46.11 202.54,45.59 202.85,44.63 203.17,45.15 203.48,43.82 203.79,36.87 204.11,44.88 204.42,42.88 204.73,49.12 205.05,42.42 205.36,43.26 205.67,45.85 205.99,44.16 206.30,44.32 206.61,44.43 206.93,47.92 207.24,46.60 207.55,49.96 207.86,50.97 208.18,53.19 208.49,51.18 208.80,54.50 209.12,55.60 209.43,58.47 209.74,60.65 210.06,61.33 210.37,59.03 210.68,69.50 211.00,65.05 211.31,63.31 211.62,63.23 211.94,64.93 212.25,65.98 212.56,60.01 212.88,66.42 213.19,63.57 213.50,63.08 213.82,73.29 214.13,66.44 214.44,63.78 214.76,65.07 215.07,61.82 215.38,63.41 215.70,63.72 216.01,70.34 216.32,64.98 216.64,65.37 216.95,60.89" class="ob"/>
<polyline points="136.75,66.56 137.06,66.56 137.38,66.56 137.69,66.56 138.00,66.56 138.32,66.56 138.63,66.56 138.94,66.56 139.26,66.56 139.57,66.56 139.88,66.56 140.20,66.56 140.51,66.56 140.82,66.52 141.14,66.40 141.45,66.22 141.76,65.16 142.08,63.18 142.39,61.34 142.70,59.54 143.02,57.68 143.33,55.81 143.64,53.77 143.96,51.72 144.27,50.15 144.58,49.05 144.90,48.11 145.21,47.37 145.52,46.87 145.84,46.52 146.15,46.21 146.46,45.96 146.78,45.80 147.09,45.74 147.40,45.74 147.71,45.75 148.03,45.76 148.34,45.77 148.65,45.79 148.97,45.81 149.28,45.83 149.59,45.85 149.91,45.89 150.22,45.96 150.53,46.05 150.85,46.15 151.16,46.27 151.47,46.40 151.79,46.53 152.10,46.67 152.41,46.84 152.73,47.06 153.04,47.32 153.35,47.72 153.67,48.29 153.98,49.02 154.29,50.11 154.61,51.54 154.92,52.98 155.23,54.26 155.55,55.54 155.86,56.94 156.17,58.70 156.49,60.68 156.80,62.47 157.11,63.76 157.43,64.89 157.74,65.80 158.05,66.33 158.37,66.60 158.68,66.82 158.99,66.96 159.31,67.01 159.62,67.01 159.93,66.99 160.25,66.97 160.56,66.94 160.87,66.90 161.19,66.84 161.50,66.78 161.81,66.57 162.13,66.11 162.44,65.51 162.75,64.86 163.07,64.05 163.38,63.02 163.69,61.92 164.01,60.90 164.32,59.87 164.63,58.72 164.95,57.63 165.26,56.74 165.57,56.22 165.89,56.19 166.20,56.49 166.51,56.94 166.82,57.82 167.14,59.22 167.45,60.75 167.76,62.03 168.08,63.09 168.39,64.12 168.70,64.95 169.02,65.43 169.33,65.65 169.64,65.84 169.96,65.98 170.27,66.07 170.58,66.10 170.90,66.05 171.21,65.91 171.52,65.71 171.84,65.46 172.15,65.20 172.46,64.89 172.78,64.49 173.09,64.00 173.40,63.43 173.72,62.77 174.03,62.03 174.34,60.99 174.66,59.53 174.97,57.83 175.28,56.05 175.60,54.38 175.91,52.98 176.22,51.78 176.54,50.62 176.85,49.55 177.16,48.63 177.48,47.89 177.79,47.30 178.10,46.78 178.42,46.34 178.73,45.95 179.04,45.63 179.36,45.32 179.67,45.02 179.98,44.81 180.30,44.72 180.61,44.75 180.92,44.83 181.24,44.96 181.55,45.13 181.86,45.31 182.18,45.51 182.49,45.76 182.80,46.10 183.12,46.54 183.43,47.10 183.74,47.99 184.06,49.29 184.37,50.72 184.68,52.31 185.00,54.09 185.31,55.81 185.62,57.38 185.94,58.89 186.25,60.33 186.56,61.82 186.88,63.25 187.19,64.29 187.50,65.03 187.81,65.69 188.13,66.15 188.44,66.33 188.75,66.30 189.07,66.22 189.38,66.12 189.69,65.99 190.01,65.88 190.32,65.74 190.63,65.57 190.95,65.40 191.26,65.26 191.57,65.20 191.89,65.18 192.20,65.17 192.51,65.16 192.83,65.16 193.14,65.15 193.45,65.15 193.77,65.14 194.08,65.14 194.39,65.14 194.71,65.13 195.02,65.13 195.33,65.12 195.65,65.11 195.96,65.10 196.27,65.09 196.59,65.06 196.90,65.00 197.21,64.92 197.53,64.81 197.84,64.67 198.15,64.50 198.47,64.29 198.78,63.73 199.09,62.62 199.41,61.15 199.72,59.53 200.03,57.96 200.35,56.28 200.66,54.35 200.97,52.36 201.29,50.52 201.60,49.02 201.91,47.79 202.23,46.68 202.54,45.74 202.85,45.06 203.17,44.53 203.48,44.06 203.79,43.72 204.11,43.59 204.42,43.67 204.73,43.88 205.05,44.17 205.36,44.49 205.67,44.90 205.99,45.43 206.30,46.06 206.61,46.76 206.93,47.57 207.24,48.53 207.55,49.59 207.86,50.72 208.18,51.97 208.49,53.30 208.80,54.68 209.12,56.23 209.43,57.94 209.74,59.57 210.06,60.90 210.37,61.98 210.68,62.97 211.00,63.77 211.31,64.29 211.62,64.64 211.94,64.93 212.25,65.12 212.56,65.20 212.88,65.20 213.19,65.20 213.50,65.20 213.82,65.20 214.13,65.20 214.44,65.20 214.76,65.20 215.07,65.20 215.38,65.20 215.70,65.20 216.01,65.20 216.32,65.20 216.64,65.20 216.95,65.20" class="gt"/>
</g>
<rect x="141.55" y="74.8" width="71.6" height="20.8" class="lg"/>
<line x1="144.05" x2="169.45" y1="80.9" y2="80.9" class="obl"/>
<line x1="144.05" x2="169.45" y1="90.4" y2="90.4" class="gtl"/>
<text x="171.95" y="83.3" class="lt">Observed</text>
<text x="171.95" y="92.8" class="lt">Ground truth</text>
<rect x="136.75" y="21.3" width="80.2" height="79.2" class="ax"/>
<path d="M136.75 89.19h0.9M216.95 89.19h-0.9M136.75 66.56h0.9M216.95 66.56h-0.9M136.75 43.93h0.9M216.95 43.93h-0.9M136.75 21.3h0.9M216.95 21.3h-0.9M136.75 100.5v-0.9M136.75 21.3v0.9M168.08 100.5v-0.9M168.08 21.3v0.9M199.41 100.5v-0.9M199.41 21.3v0.9" class="tk"/>
<text x="134.35" y="91.79" class="yl">8</text>
<text x="134.35" y="69.16" class="yl">10</text>
<text x="134.35" y="46.53" class="yl">12</text>
<text x="134.35" y="23.9" class="yl">14</text>
<text x="136.75" y="110.6" class="xl">0</text>
<text x="168.08" y="110.6" class="xl">100</text>
<text x="199.41" y="110.6" class="xl">200</text>
<text x="176.85" y="121" class="lb">Time points</text>
<text transform="translate(123.35 61.9) rotate(-90)" class="lb" style="font-size:7.9px">Amplitude</text>
<g clip-path="url(#c11)"><polyline points="136.75,203.03 137.25,202.12 137.75,201.20 138.25,200.25 138.75,199.28 139.26,198.29 139.76,197.29 140.26,196.27 140.76,195.23 141.26,194.17 141.76,193.09 142.26,191.99 142.77,190.87 143.27,189.72 143.77,188.55 144.27,187.37 144.77,186.18 145.27,185.00 145.77,183.82 146.27,182.65 146.78,181.49 147.28,180.33 147.78,179.16 148.28,177.97 148.78,176.74 149.28,175.46 149.78,174.10 150.28,172.69 150.78,171.22 151.29,169.74 151.79,168.26 152.29,166.83 152.79,165.45 153.29,164.15 153.79,162.90 154.29,161.71 154.80,160.56 155.30,159.45 155.80,158.38 156.30,157.34 156.80,156.33 157.30,155.34 157.80,154.39 158.30,153.48 158.81,152.63 159.31,151.83 159.81,151.09 160.31,150.41 160.81,149.77 161.31,149.18 161.81,148.63 162.31,148.12 162.81,147.66 163.32,147.24 163.82,146.87 164.32,146.54 164.82,146.24 165.32,145.96 165.82,145.70 166.32,145.47 166.82,145.25 167.33,145.05 167.83,144.87 168.33,144.71 168.83,144.57 169.33,144.45 169.83,144.34 170.33,144.25 170.84,144.16 171.34,144.08 171.84,144.01 172.34,143.94 172.84,143.88 173.34,143.84 173.84,143.80 174.34,143.78 174.84,143.76 175.35,143.75 175.85,143.75 176.35,143.76 176.85,143.77 177.35,143.78 177.85,143.79 178.35,143.81 178.86,143.83 179.36,143.85 179.86,143.87 180.36,143.89 180.86,143.92 181.36,143.94 181.86,143.97 182.36,143.99 182.87,144.02 183.37,144.05 183.87,144.07 184.37,144.10 184.87,144.12 185.37,144.15 185.87,144.17 186.37,144.19 186.88,144.22 187.38,144.24 187.88,144.25 188.38,144.27 188.88,144.29 189.38,144.30 189.88,144.32 190.38,144.34 190.88,144.36 191.39,144.37 191.89,144.39 192.39,144.42 192.89,144.44 193.39,144.47 193.89,144.50 194.39,144.53 194.90,144.58 195.40,144.63 195.90,144.69 196.40,144.77 196.90,144.88 197.40,145.04 197.90,145.26 198.40,145.56 198.91,145.96 199.41,146.48 199.91,147.13 200.41,147.92 200.91,148.82 201.41,149.81 201.91,150.86 202.41,151.95 202.92,153.06 203.42,154.19 203.92,155.33 204.42,156.48 204.92,157.61 205.42,158.72 205.92,159.82 206.42,160.90 206.93,161.95 207.43,162.98 207.93,163.97 208.43,164.91 208.93,165.80 209.43,166.63 209.93,167.41 210.43,168.14 210.94,168.84 211.44,169.50 211.94,170.14 212.44,170.75 212.94,171.33 213.44,171.90 213.94,172.44 214.44,172.96 214.94,173.45 215.45,173.91 215.95,174.33 216.45,174.73 216.95,175.11" class="cv"/></g>
<rect x="136.75" y="137.5" width="80.2" height="79" class="ax"/>
<path d="M136.75 216.5h0.9M216.95 216.5h-0.9M136.75 177h0.9M216.95 177h-0.9M136.75 137.5h0.9M216.95 137.5h-0.9M136.75 216.5v-1.2M136.75 137.5v1.2M148.68 216.5v-1.2M148.68 137.5v1.2M160.61 216.5v-1.2M160.61 137.5v1.2M172.54 216.5v-1.2M172.54 137.5v1.2M184.47 216.5v-1.2M184.47 137.5v1.2M196.4 216.5v-1.2M196.4 137.5v1.2M208.33 216.5v-1.2M208.33 137.5v1.2" class="tk"/>
<path d="M140.34 216.5v-0.6M140.34 137.5v0.6M142.44 216.5v-0.6M142.44 137.5v0.6M143.93 216.5v-0.6M143.93 137.5v0.6M145.09 216.5v-0.6M145.09 137.5v0.6M146.03 216.5v-0.6M146.03 137.5v0.6M146.83 216.5v-0.6M146.83 137.5v0.6M147.52 216.5v-0.6M147.52 137.5v0.6M148.13 216.5v-0.6M148.13 137.5v0.6M152.27 216.5v-0.6M152.27 137.5v0.6M154.37 216.5v-0.6M154.37 137.5v0.6M155.86 216.5v-0.6M155.86 137.5v0.6M157.02 216.5v-0.6M157.02 137.5v0.6M157.96 216.5v-0.6M157.96 137.5v0.6M158.76 216.5v-0.6M158.76 137.5v0.6M159.45 216.5v-0.6M159.45 137.5v0.6M160.06 216.5v-0.6M160.06 137.5v0.6M164.20 216.5v-0.6M164.20 137.5v0.6M166.30 216.5v-0.6M166.30 137.5v0.6M167.79 216.5v-0.6M167.79 137.5v0.6M168.95 216.5v-0.6M168.95 137.5v0.6M169.89 216.5v-0.6M169.89 137.5v0.6M170.69 216.5v-0.6M170.69 137.5v0.6M171.38 216.5v-0.6M171.38 137.5v0.6M171.99 216.5v-0.6M171.99 137.5v0.6M176.13 216.5v-0.6M176.13 137.5v0.6M178.23 216.5v-0.6M178.23 137.5v0.6M179.72 216.5v-0.6M179.72 137.5v0.6M180.88 216.5v-0.6M180.88 137.5v0.6M181.82 216.5v-0.6M181.82 137.5v0.6M182.62 216.5v-0.6M182.62 137.5v0.6M183.31 216.5v-0.6M183.31 137.5v0.6M183.92 216.5v-0.6M183.92 137.5v0.6M188.06 216.5v-0.6M188.06 137.5v0.6M190.16 216.5v-0.6M190.16 137.5v0.6M191.65 216.5v-0.6M191.65 137.5v0.6M192.81 216.5v-0.6M192.81 137.5v0.6M193.75 216.5v-0.6M193.75 137.5v0.6M194.55 216.5v-0.6M194.55 137.5v0.6M195.24 216.5v-0.6M195.24 137.5v0.6M195.85 216.5v-0.6M195.85 137.5v0.6M199.99 216.5v-0.6M199.99 137.5v0.6M202.09 216.5v-0.6M202.09 137.5v0.6M203.58 216.5v-0.6M203.58 137.5v0.6M204.74 216.5v-0.6M204.74 137.5v0.6M205.68 216.5v-0.6M205.68 137.5v0.6M206.48 216.5v-0.6M206.48 137.5v0.6M207.17 216.5v-0.6M207.17 137.5v0.6M207.78 216.5v-0.6M207.78 137.5v0.6M211.92 216.5v-0.6M211.92 137.5v0.6M214.02 216.5v-0.6M214.02 137.5v0.6M215.51 216.5v-0.6M215.51 137.5v0.6" class="mt"/>
<path d="M136.75 137.5H216.95M136.75 216.5H216.95" class="hx"/>
<text x="134.35" y="219.1" class="yl">0</text>
<text x="134.35" y="179.6" class="yl">0.5</text>
<text x="134.35" y="140.1" class="yl">1</text>
<text x="136.45" y="228.3" class="xl xe">10<tspan class="sp" dy="-4">-6</tspan></text>
<text x="160.31" y="228.3" class="xl xe">10<tspan class="sp" dy="-4">-4</tspan></text>
<text x="184.17" y="228.3" class="xl xe">10<tspan class="sp" dy="-4">-2</tspan></text>
<text x="208.03" y="228.3" class="xl xe">10<tspan class="sp" dy="-4">0</tspan></text>
<text x="176.85" y="238.5" class="lam">λ</text>
<text transform="translate(121.05 177) rotate(-90)" class="lb" style="font-size:8.1px">Correlation value</text>
<text x="176.85" y="295.7" class="ti">SNR = 4</text>
<g clip-path="url(#c21)">
<polyline points="136.75,342.11 137.06,342.03 137.38,340.92 137.69,340.33 138.00,341.93 138.32,348.32 138.63,340.60 138.94,345.14 139.26,344.83 139.57,353.43 139.88,340.95 140.20,346.62 140.51,339.51 140.82,343.91 141.14,344.82 141.45,346.21 141.76,343.65 142.08,344.63 142.39,346.31 142.70,344.97 143.02,344.45 143.33,345.51 143.64,347.55 143.96,344.58 144.27,342.58 144.58,346.75 144.90,339.46 145.21,343.86 145.52,341.44 145.84,347.42 146.15,349.23 146.46,346.93 146.78,344.48 147.09,341.11 147.40,342.25 147.71,340.26 148.03,344.23 148.34,345.78 148.65,342.22 148.97,343.02 149.28,347.01 149.59,343.51 149.91,345.18 150.22,342.55 150.53,343.19 150.85,342.79 151.16,345.13 151.47,339.81 151.79,330.28 152.10,336.67 152.41,335.39 152.73,325.85 153.04,327.34 153.35,328.29 153.67,332.25 153.98,335.13 154.29,324.75 154.61,328.41 154.92,323.54 155.23,329.69 155.55,332.34 155.86,333.72 156.17,336.48 156.49,334.64 156.80,346.82 157.11,339.69 157.43,344.55 157.74,341.74 158.05,341.69 158.37,349.46 158.68,345.85 158.99,345.81 159.31,344.61 159.62,343.44 159.93,353.29 160.25,348.98 160.56,343.38 160.87,345.57 161.19,341.66 161.50,340.84 161.81,343.51 162.13,347.86 162.44,343.25 162.75,340.51 163.07,349.26 163.38,342.93 163.69,344.33 164.01,342.91 164.32,334.64 164.63,349.52 164.95,345.04 165.26,341.02 165.57,345.85 165.89,344.59 166.20,349.59 166.51,345.60 166.82,348.33 167.14,342.69 167.45,341.51 167.76,343.01 168.08,343.59 168.39,340.54 168.70,339.85 169.02,339.67 169.33,339.84 169.64,335.76 169.96,338.35 170.27,337.00 170.58,335.29 170.90,328.76 171.21,325.41 171.52,333.64 171.84,333.73 172.15,335.69 172.46,335.88 172.78,338.59 173.09,335.45 173.40,341.34 173.72,337.25 174.03,338.03 174.34,337.98 174.66,340.54 174.97,341.99 175.28,342.80 175.60,344.16 175.91,345.45 176.22,345.11 176.54,344.54 176.85,343.71 177.16,347.64 177.48,342.85 177.79,343.86 178.10,345.75 178.42,342.57 178.73,343.37 179.04,344.79 179.36,340.55 179.67,341.25 179.98,344.95 180.30,348.91 180.61,349.92 180.92,344.03 181.24,342.29 181.55,347.68 181.86,342.12 182.18,342.45 182.49,339.04 182.80,337.93 183.12,341.19 183.43,344.75 183.74,340.69 184.06,343.07 184.37,346.23 184.68,337.57 185.00,334.24 185.31,343.26 185.62,343.53 185.94,343.97 186.25,347.74 186.56,348.19 186.88,346.24 187.19,343.53 187.50,340.88 187.81,341.33 188.13,346.09 188.44,346.26 188.75,345.97 189.07,342.68 189.38,342.40 189.69,342.82 190.01,343.27 190.32,341.75 190.63,344.08 190.95,343.60 191.26,337.91 191.57,343.95 191.89,343.53 192.20,344.51 192.51,345.30 192.83,343.09 193.14,342.95 193.45,339.43 193.77,340.00 194.08,340.95 194.39,341.68 194.71,339.18 195.02,341.75 195.33,336.20 195.65,337.59 195.96,337.17 196.27,340.33 196.59,328.64 196.90,330.60 197.21,327.87 197.53,323.70 197.84,322.11 198.15,326.46 198.47,326.93 198.78,322.99 199.09,323.93 199.41,323.16 199.72,323.45 200.03,322.87 200.35,322.11 200.66,324.26 200.97,323.94 201.29,322.26 201.60,325.08 201.91,332.15 202.23,322.16 202.54,332.97 202.85,334.15 203.17,342.49 203.48,337.18 203.79,336.64 204.11,340.81 204.42,339.59 204.73,342.46 205.05,344.59 205.36,339.70 205.67,342.32 205.99,341.24 206.30,344.08 206.61,345.02 206.93,341.75 207.24,343.40 207.55,346.97 207.86,343.06 208.18,345.23 208.49,343.34 208.80,340.13 209.12,343.67 209.43,341.43 209.74,340.42 210.06,338.18 210.37,336.12 210.68,335.74 211.00,341.45 211.31,339.59 211.62,344.22 211.94,341.37 212.25,348.04 212.56,343.84 212.88,343.92 213.19,342.92 213.50,343.04 213.82,341.49 214.13,341.66 214.44,342.44 214.76,346.76 215.07,342.51 215.38,342.24 215.70,341.00 216.01,342.00 216.32,344.49 216.64,339.39 216.95,337.56" class="ob"/>
<polyline points="136.75,344.56 137.06,344.56 137.38,344.56 137.69,344.56 138.00,344.56 138.32,344.56 138.63,344.56 138.94,344.56 139.26,344.56 139.57,344.56 139.88,344.56 140.20,344.56 140.51,344.56 140.82,344.56 141.14,344.56 141.45,344.56 141.76,344.56 142.08,344.56 142.39,344.56 142.70,344.56 143.02,344.56 143.33,344.55 143.64,344.53 143.96,344.51 144.27,344.47 144.58,344.43 144.90,344.39 145.21,344.34 145.52,344.30 145.84,344.25 146.15,344.22 146.46,344.19 146.78,344.16 147.09,344.14 147.40,344.11 147.71,344.09 148.03,344.06 148.34,344.03 148.65,343.99 148.97,343.94 149.28,343.88 149.59,343.76 149.91,343.55 150.22,343.25 150.53,342.86 150.85,341.92 151.16,340.28 151.47,338.37 151.79,336.64 152.10,335.06 152.41,333.48 152.73,332.10 153.04,331.05 153.35,330.13 153.67,329.38 153.98,328.94 154.29,328.73 154.61,328.61 154.92,328.77 155.23,329.42 155.55,330.55 155.86,332.67 156.17,334.43 156.49,336.08 156.80,337.63 157.11,339.04 157.43,340.34 157.74,341.67 158.05,342.79 158.37,343.43 158.68,343.70 158.99,343.91 159.31,344.05 159.62,344.10 159.93,344.10 160.25,344.10 160.56,344.10 160.87,344.10 161.19,344.10 161.50,344.10 161.81,344.10 162.13,344.10 162.44,344.08 162.75,344.04 163.07,344.00 163.38,343.96 163.69,343.91 164.01,343.87 164.32,343.83 164.63,343.79 164.95,343.77 165.26,343.75 165.57,343.74 165.89,343.73 166.20,343.72 166.51,343.71 166.82,343.70 167.14,343.68 167.45,343.65 167.76,343.42 168.08,342.91 168.39,342.29 168.70,341.50 169.02,340.45 169.33,339.30 169.64,338.22 169.96,337.11 170.27,336.01 170.58,335.28 170.90,334.89 171.21,334.60 171.52,334.49 171.84,334.70 172.15,335.18 172.46,335.73 172.78,336.31 173.09,337.01 173.40,337.77 173.72,338.56 174.03,339.33 174.34,340.07 174.66,340.91 174.97,341.75 175.28,342.44 175.60,342.86 175.91,343.08 176.22,343.27 176.54,343.43 176.85,343.55 177.16,343.63 177.48,343.65 177.79,343.65 178.10,343.63 178.42,343.60 178.73,343.57 179.04,343.54 179.36,343.51 179.67,343.47 179.98,343.45 180.30,343.43 180.61,343.43 180.92,343.43 181.24,343.43 181.55,343.43 181.86,343.43 182.18,343.43 182.49,343.43 182.80,343.43 183.12,343.43 183.43,343.43 183.74,343.43 184.06,343.43 184.37,343.43 184.68,343.43 185.00,343.43 185.31,343.43 185.62,343.43 185.94,343.43 186.25,343.43 186.56,343.42 186.88,343.41 187.19,343.38 187.50,343.35 187.81,343.32 188.13,343.28 188.44,343.25 188.75,343.21 189.07,343.17 189.38,343.14 189.69,343.11 190.01,343.09 190.32,343.07 190.63,343.06 190.95,343.05 191.26,343.04 191.57,343.03 191.89,343.01 192.20,343.00 192.51,342.97 192.83,342.92 193.14,342.83 193.45,342.69 193.77,342.51 194.08,342.29 194.39,341.94 194.71,341.36 195.02,340.60 195.33,339.69 195.65,338.29 195.96,336.32 196.27,334.21 196.59,332.29 196.90,330.26 197.21,328.23 197.53,326.44 197.84,325.10 198.15,324.12 198.47,323.32 198.78,322.83 199.09,322.55 199.41,322.35 199.72,322.27 200.03,322.48 200.35,322.99 200.66,323.63 200.97,324.50 201.29,325.72 201.60,327.14 201.91,328.60 202.23,330.16 202.54,331.88 202.85,333.63 203.17,335.38 203.48,337.29 203.79,339.08 204.11,340.37 204.42,341.25 204.73,342.02 205.05,342.65 205.36,343.06 205.67,343.23 205.99,343.31 206.30,343.37 206.61,343.41 206.93,343.43 207.24,343.41 207.55,343.35 207.86,343.27 208.18,343.17 208.49,343.05 208.80,342.93 209.12,342.79 209.43,342.67 209.74,342.55 210.06,342.45 210.37,342.37 210.68,342.31 211.00,342.29 211.31,342.29 211.62,342.29 211.94,342.29 212.25,342.29 212.56,342.29 212.88,342.29 213.19,342.29 213.50,342.29 213.82,342.29 214.13,342.29 214.44,342.29 214.76,342.29 215.07,342.29 215.38,342.29 215.70,342.29 216.01,342.29 216.32,342.29 216.64,342.29 216.95,342.29" class="gt"/>
</g>
<rect x="141.55" y="352.8" width="71.6" height="20.8" class="lg"/>
<line x1="144.05" x2="169.45" y1="358.9" y2="358.9" class="obl"/>
<line x1="144.05" x2="169.45" y1="368.4" y2="368.4" class="gtl"/>
<text x="171.95" y="361.3" class="lt">Observed</text>
<text x="171.95" y="370.8" class="lt">Ground truth</text>
<rect x="136.75" y="299.3" width="80.2" height="79.2" class="ax"/>
<path d="M136.75 367.19h0.9M216.95 367.19h-0.9M136.75 344.56h0.9M216.95 344.56h-0.9M136.75 321.93h0.9M216.95 321.93h-0.9M136.75 299.3h0.9M216.95 299.3h-0.9M136.75 378.5v-0.9M136.75 299.3v0.9M168.08 378.5v-0.9M168.08 299.3v0.9M199.41 378.5v-0.9M199.41 299.3v0.9" class="tk"/>
<text x="134.35" y="369.79" class="yl">8</text>
<text x="134.35" y="347.16" class="yl">10</text>
<text x="134.35" y="324.53" class="yl">12</text>
<text x="134.35" y="301.9" class="yl">14</text>
<text x="136.75" y="388.6" class="xl">0</text>
<text x="168.08" y="388.6" class="xl">100</text>
<text x="199.41" y="388.6" class="xl">200</text>
<text x="176.85" y="399" class="lb">Time points</text>
<text transform="translate(123.35 339.9) rotate(-90)" class="lb" style="font-size:7.9px">Amplitude</text>
<g clip-path="url(#c31)"><polyline points="136.75,480.83 137.25,480.30 137.75,479.72 138.25,479.10 138.75,478.45 139.26,477.76 139.76,477.04 140.26,476.28 140.76,475.49 141.26,474.65 141.76,473.77 142.26,472.85 142.77,471.89 143.27,470.89 143.77,469.86 144.27,468.80 144.77,467.73 145.27,466.64 145.77,465.52 146.27,464.39 146.78,463.24 147.28,462.06 147.78,460.86 148.28,459.63 148.78,458.38 149.28,457.10 149.78,455.79 150.28,454.44 150.78,453.06 151.29,451.66 151.79,450.25 152.29,448.85 152.79,447.48 153.29,446.15 153.79,444.85 154.29,443.58 154.80,442.35 155.30,441.15 155.80,439.99 156.30,438.87 156.80,437.80 157.30,436.77 157.80,435.77 158.30,434.81 158.81,433.88 159.31,433.00 159.81,432.16 160.31,431.38 160.81,430.66 161.31,430.01 161.81,429.41 162.31,428.86 162.81,428.35 163.32,427.87 163.82,427.43 164.32,427.01 164.82,426.64 165.32,426.30 165.82,426.00 166.32,425.74 166.82,425.51 167.33,425.31 167.83,425.12 168.33,424.95 168.83,424.79 169.33,424.65 169.83,424.51 170.33,424.40 170.84,424.31 171.34,424.23 171.84,424.18 172.34,424.15 172.84,424.14 173.34,424.15 173.84,424.17 174.34,424.20 174.84,424.23 175.35,424.28 175.85,424.33 176.35,424.38 176.85,424.45 177.35,424.53 177.85,424.61 178.35,424.71 178.86,424.82 179.36,424.93 179.86,425.04 180.36,425.15 180.86,425.25 181.36,425.33 181.86,425.41 182.36,425.48 182.87,425.54 183.37,425.60 183.87,425.66 184.37,425.71 184.87,425.77 185.37,425.83 185.87,425.89 186.37,425.96 186.88,426.03 187.38,426.10 187.88,426.18 188.38,426.27 188.88,426.36 189.38,426.46 189.88,426.56 190.38,426.67 190.88,426.80 191.39,426.93 191.89,427.08 192.39,427.24 192.89,427.43 193.39,427.65 193.89,427.90 194.39,428.21 194.90,428.57 195.40,429.00 195.90,429.48 196.40,430.03 196.90,430.66 197.40,431.37 197.90,432.18 198.40,433.08 198.91,434.07 199.41,435.14 199.91,436.26 200.41,437.43 200.91,438.66 201.41,439.94 201.91,441.27 202.41,442.63 202.92,444.02 203.42,445.41 203.92,446.81 204.42,448.22 204.92,449.61 205.42,451.00 205.92,452.34 206.42,453.62 206.93,454.82 207.43,455.94 207.93,456.98 208.43,457.95 208.93,458.87 209.43,459.73 209.93,460.53 210.43,461.29 210.94,462.00 211.44,462.66 211.94,463.28 212.44,463.87 212.94,464.42 213.44,464.94 213.94,465.43 214.44,465.90 214.94,466.33 215.45,466.74 215.95,467.11 216.45,467.45 216.95,467.77" class="cv"/></g>
<rect x="136.75" y="415.5" width="80.2" height="79" class="ax"/>
<path d="M136.75 494.5h0.9M216.95 494.5h-0.9M136.75 455h0.9M216.95 455h-0.9M136.75 415.5h0.9M216.95 415.5h-0.9M136.75 494.5v-1.2M136.75 415.5v1.2M148.68 494.5v-1.2M148.68 415.5v1.2M160.61 494.5v-1.2M160.61 415.5v1.2M172.54 494.5v-1.2M172.54 415.5v1.2M184.47 494.5v-1.2M184.47 415.5v1.2M196.4 494.5v-1.2M196.4 415.5v1.2M208.33 494.5v-1.2M208.33 415.5v1.2" class="tk"/>
<path d="M140.34 494.5v-0.6M140.34 415.5v0.6M142.44 494.5v-0.6M142.44 415.5v0.6M143.93 494.5v-0.6M143.93 415.5v0.6M145.09 494.5v-0.6M145.09 415.5v0.6M146.03 494.5v-0.6M146.03 415.5v0.6M146.83 494.5v-0.6M146.83 415.5v0.6M147.52 494.5v-0.6M147.52 415.5v0.6M148.13 494.5v-0.6M148.13 415.5v0.6M152.27 494.5v-0.6M152.27 415.5v0.6M154.37 494.5v-0.6M154.37 415.5v0.6M155.86 494.5v-0.6M155.86 415.5v0.6M157.02 494.5v-0.6M157.02 415.5v0.6M157.96 494.5v-0.6M157.96 415.5v0.6M158.76 494.5v-0.6M158.76 415.5v0.6M159.45 494.5v-0.6M159.45 415.5v0.6M160.06 494.5v-0.6M160.06 415.5v0.6M164.20 494.5v-0.6M164.20 415.5v0.6M166.30 494.5v-0.6M166.30 415.5v0.6M167.79 494.5v-0.6M167.79 415.5v0.6M168.95 494.5v-0.6M168.95 415.5v0.6M169.89 494.5v-0.6M169.89 415.5v0.6M170.69 494.5v-0.6M170.69 415.5v0.6M171.38 494.5v-0.6M171.38 415.5v0.6M171.99 494.5v-0.6M171.99 415.5v0.6M176.13 494.5v-0.6M176.13 415.5v0.6M178.23 494.5v-0.6M178.23 415.5v0.6M179.72 494.5v-0.6M179.72 415.5v0.6M180.88 494.5v-0.6M180.88 415.5v0.6M181.82 494.5v-0.6M181.82 415.5v0.6M182.62 494.5v-0.6M182.62 415.5v0.6M183.31 494.5v-0.6M183.31 415.5v0.6M183.92 494.5v-0.6M183.92 415.5v0.6M188.06 494.5v-0.6M188.06 415.5v0.6M190.16 494.5v-0.6M190.16 415.5v0.6M191.65 494.5v-0.6M191.65 415.5v0.6M192.81 494.5v-0.6M192.81 415.5v0.6M193.75 494.5v-0.6M193.75 415.5v0.6M194.55 494.5v-0.6M194.55 415.5v0.6M195.24 494.5v-0.6M195.24 415.5v0.6M195.85 494.5v-0.6M195.85 415.5v0.6M199.99 494.5v-0.6M199.99 415.5v0.6M202.09 494.5v-0.6M202.09 415.5v0.6M203.58 494.5v-0.6M203.58 415.5v0.6M204.74 494.5v-0.6M204.74 415.5v0.6M205.68 494.5v-0.6M205.68 415.5v0.6M206.48 494.5v-0.6M206.48 415.5v0.6M207.17 494.5v-0.6M207.17 415.5v0.6M207.78 494.5v-0.6M207.78 415.5v0.6M211.92 494.5v-0.6M211.92 415.5v0.6M214.02 494.5v-0.6M214.02 415.5v0.6M215.51 494.5v-0.6M215.51 415.5v0.6" class="mt"/>
<path d="M136.75 415.5H216.95M136.75 494.5H216.95" class="hx"/>
<text x="134.35" y="497.1" class="yl">0</text>
<text x="134.35" y="457.6" class="yl">0.5</text>
<text x="134.35" y="418.1" class="yl">1</text>
<text x="136.45" y="506.3" class="xl xe">10<tspan class="sp" dy="-4">-6</tspan></text>
<text x="160.31" y="506.3" class="xl xe">10<tspan class="sp" dy="-4">-4</tspan></text>
<text x="184.17" y="506.3" class="xl xe">10<tspan class="sp" dy="-4">-2</tspan></text>
<text x="208.03" y="506.3" class="xl xe">10<tspan class="sp" dy="-4">0</tspan></text>
<text x="176.85" y="516.5" class="lam">λ</text>
<text transform="translate(121.05 455) rotate(-90)" class="lb" style="font-size:8.1px">Correlation value</text>
<text x="285.6" y="17.7" class="ti">SNR = 2</text>
<g clip-path="url(#c02)">
<polyline points="245.50,60.55 245.81,68.86 246.13,68.00 246.44,56.14 246.75,65.58 247.07,68.97 247.38,61.21 247.69,69.08 248.01,63.96 248.32,72.70 248.63,62.20 248.95,77.93 249.26,65.60 249.57,82.53 249.89,62.65 250.20,65.95 250.51,65.24 250.83,63.56 251.14,63.00 251.45,58.31 251.77,53.68 252.08,55.75 252.39,64.59 252.71,53.93 253.02,57.30 253.33,49.36 253.65,46.25 253.96,57.57 254.27,49.98 254.59,43.74 254.90,46.21 255.21,44.63 255.53,55.09 255.84,35.98 256.15,47.10 256.46,41.12 256.78,44.28 257.09,43.74 257.40,41.12 257.72,48.78 258.03,48.12 258.34,34.03 258.66,44.45 258.97,28.01 259.28,37.80 259.60,46.09 259.91,46.66 260.22,50.37 260.54,48.26 260.85,28.73 261.16,42.44 261.48,52.38 261.79,43.74 262.10,50.03 262.42,46.72 262.73,47.30 263.04,55.57 263.36,55.90 263.67,57.38 263.98,48.08 264.30,59.67 264.61,59.20 264.92,62.55 265.24,61.93 265.55,63.39 265.86,66.73 266.18,56.86 266.49,73.52 266.80,67.88 267.12,70.34 267.43,57.94 267.74,73.92 268.06,73.21 268.37,67.13 268.68,71.04 269.00,75.31 269.31,67.31 269.62,58.47 269.94,62.34 270.25,65.20 270.56,63.07 270.88,61.02 271.19,66.90 271.50,57.59 271.82,48.26 272.13,67.96 272.44,70.82 272.76,60.06 273.07,55.04 273.38,58.60 273.70,58.65 274.01,61.52 274.32,58.94 274.64,51.96 274.95,56.89 275.26,57.59 275.57,49.27 275.89,55.12 276.20,61.15 276.51,70.01 276.83,70.15 277.14,65.46 277.45,63.49 277.77,65.63 278.08,66.33 278.39,60.40 278.71,61.94 279.02,66.75 279.33,59.31 279.65,67.03 279.96,68.48 280.27,65.73 280.59,67.26 280.90,63.93 281.21,61.02 281.53,80.36 281.84,63.39 282.15,62.24 282.47,59.47 282.78,63.69 283.09,43.04 283.41,61.03 283.72,55.30 284.03,57.90 284.35,58.58 284.66,47.68 284.97,51.09 285.29,52.46 285.60,48.48 285.91,52.19 286.23,45.47 286.54,44.57 286.85,37.25 287.17,43.69 287.48,50.38 287.79,40.84 288.11,44.11 288.42,42.30 288.73,45.55 289.05,49.97 289.36,44.08 289.67,39.77 289.99,48.24 290.30,50.17 290.61,48.98 290.93,46.97 291.24,42.26 291.55,49.95 291.87,49.14 292.18,50.67 292.49,41.93 292.81,48.55 293.12,47.05 293.43,57.64 293.75,61.48 294.06,53.00 294.37,58.57 294.69,54.22 295.00,64.45 295.31,60.47 295.62,65.82 295.94,72.50 296.25,69.36 296.56,67.77 296.88,67.48 297.19,66.27 297.50,64.14 297.82,63.60 298.13,64.90 298.44,65.36 298.76,61.97 299.07,57.40 299.38,65.79 299.70,68.33 300.01,64.86 300.32,62.11 300.64,62.00 300.95,67.55 301.26,67.87 301.58,66.23 301.89,64.00 302.20,59.94 302.52,67.86 302.83,62.50 303.14,64.50 303.46,61.77 303.77,70.43 304.08,64.49 304.40,61.00 304.71,63.33 305.02,67.11 305.34,71.52 305.65,62.03 305.96,70.00 306.28,67.98 306.59,58.14 306.90,63.84 307.22,75.28 307.53,67.08 307.84,58.55 308.16,71.15 308.47,60.56 308.78,54.33 309.10,56.17 309.41,48.84 309.72,52.58 310.04,51.19 310.35,51.06 310.66,49.03 310.98,44.15 311.29,46.93 311.60,48.38 311.92,43.40 312.23,38.36 312.54,43.68 312.86,41.18 313.17,46.63 313.48,45.15 313.80,48.71 314.11,38.76 314.42,48.66 314.74,45.77 315.05,38.89 315.36,45.29 315.68,41.60 315.99,47.56 316.30,49.02 316.61,47.84 316.93,54.42 317.24,58.99 317.55,55.71 317.87,59.52 318.18,58.68 318.49,66.38 318.81,64.78 319.12,79.93 319.43,69.48 319.75,68.16 320.06,58.05 320.37,62.04 320.69,69.59 321.00,67.14 321.31,47.25 321.63,61.96 321.94,68.85 322.25,66.49 322.57,67.33 322.88,63.35 323.19,75.29 323.51,65.36 323.82,74.24 324.13,60.60 324.45,63.64 324.76,66.56 325.07,67.01 325.39,69.54 325.70,53.19" class="ob"/>
<polyline points="245.50,66.56 245.81,66.56 246.13,66.56 246.44,66.56 246.75,66.56 247.07,66.56 247.38,66.56 247.69,66.56 248.01,66.56 248.32,66.56 248.63,66.56 248.95,66.56 249.26,66.56 249.57,66.52 249.89,66.40 250.20,66.22 250.51,65.16 250.83,63.18 251.14,61.34 251.45,59.54 251.77,57.68 252.08,55.81 252.39,53.77 252.71,51.72 253.02,50.15 253.33,49.05 253.65,48.11 253.96,47.37 254.27,46.87 254.59,46.52 254.90,46.21 255.21,45.96 255.53,45.80 255.84,45.74 256.15,45.74 256.46,45.75 256.78,45.76 257.09,45.77 257.40,45.79 257.72,45.81 258.03,45.83 258.34,45.85 258.66,45.89 258.97,45.96 259.28,46.05 259.60,46.15 259.91,46.27 260.22,46.40 260.54,46.53 260.85,46.67 261.16,46.84 261.48,47.06 261.79,47.32 262.10,47.72 262.42,48.29 262.73,49.02 263.04,50.11 263.36,51.54 263.67,52.98 263.98,54.26 264.30,55.54 264.61,56.94 264.92,58.70 265.24,60.68 265.55,62.47 265.86,63.76 266.18,64.89 266.49,65.80 266.80,66.33 267.12,66.60 267.43,66.82 267.74,66.96 268.06,67.01 268.37,67.01 268.68,66.99 269.00,66.97 269.31,66.94 269.62,66.90 269.94,66.84 270.25,66.78 270.56,66.57 270.88,66.11 271.19,65.51 271.50,64.86 271.82,64.05 272.13,63.02 272.44,61.92 272.76,60.90 273.07,59.87 273.38,58.72 273.70,57.63 274.01,56.74 274.32,56.22 274.64,56.19 274.95,56.49 275.26,56.94 275.57,57.82 275.89,59.22 276.20,60.75 276.51,62.03 276.83,63.09 277.14,64.12 277.45,64.95 277.77,65.43 278.08,65.65 278.39,65.84 278.71,65.98 279.02,66.07 279.33,66.10 279.65,66.05 279.96,65.91 280.27,65.71 280.59,65.46 280.90,65.20 281.21,64.89 281.53,64.49 281.84,64.00 282.15,63.43 282.47,62.77 282.78,62.03 283.09,60.99 283.41,59.53 283.72,57.83 284.03,56.05 284.35,54.38 284.66,52.98 284.97,51.78 285.29,50.62 285.60,49.55 285.91,48.63 286.23,47.89 286.54,47.30 286.85,46.78 287.17,46.34 287.48,45.95 287.79,45.63 288.11,45.32 288.42,45.02 288.73,44.81 289.05,44.72 289.36,44.75 289.67,44.83 289.99,44.96 290.30,45.13 290.61,45.31 290.93,45.51 291.24,45.76 291.55,46.10 291.87,46.54 292.18,47.10 292.49,47.99 292.81,49.29 293.12,50.72 293.43,52.31 293.75,54.09 294.06,55.81 294.37,57.38 294.69,58.89 295.00,60.33 295.31,61.82 295.62,63.25 295.94,64.29 296.25,65.03 296.56,65.69 296.88,66.15 297.19,66.33 297.50,66.30 297.82,66.22 298.13,66.12 298.44,65.99 298.76,65.88 299.07,65.74 299.38,65.57 299.70,65.40 300.01,65.26 300.32,65.20 300.64,65.18 300.95,65.17 301.26,65.16 301.58,65.16 301.89,65.15 302.20,65.15 302.52,65.14 302.83,65.14 303.14,65.14 303.46,65.13 303.77,65.13 304.08,65.12 304.40,65.11 304.71,65.10 305.02,65.09 305.34,65.06 305.65,65.00 305.96,64.92 306.28,64.81 306.59,64.67 306.90,64.50 307.22,64.29 307.53,63.73 307.84,62.62 308.16,61.15 308.47,59.53 308.78,57.96 309.10,56.28 309.41,54.35 309.72,52.36 310.04,50.52 310.35,49.02 310.66,47.79 310.98,46.68 311.29,45.74 311.60,45.06 311.92,44.53 312.23,44.06 312.54,43.72 312.86,43.59 313.17,43.67 313.48,43.88 313.80,44.17 314.11,44.49 314.42,44.90 314.74,45.43 315.05,46.06 315.36,46.76 315.68,47.57 315.99,48.53 316.30,49.59 316.61,50.72 316.93,51.97 317.24,53.30 317.55,54.68 317.87,56.23 318.18,57.94 318.49,59.57 318.81,60.90 319.12,61.98 319.43,62.97 319.75,63.77 320.06,64.29 320.37,64.64 320.69,64.93 321.00,65.12 321.31,65.20 321.63,65.20 321.94,65.20 322.25,65.20 322.57,65.20 322.88,65.20 323.19,65.20 323.51,65.20 323.82,65.20 324.13,65.20 324.45,65.20 324.76,65.20 325.07,65.20 325.39,65.20 325.70,65.20" class="gt"/>
</g>
<rect x="250.3" y="74.8" width="71.6" height="20.8" class="lg"/>
<line x1="252.8" x2="278.2" y1="80.9" y2="80.9" class="obl"/>
<line x1="252.8" x2="278.2" y1="90.4" y2="90.4" class="gtl"/>
<text x="280.7" y="83.3" class="lt">Observed</text>
<text x="280.7" y="92.8" class="lt">Ground truth</text>
<rect x="245.5" y="21.3" width="80.2" height="79.2" class="ax"/>
<path d="M245.5 89.19h0.9M325.7 89.19h-0.9M245.5 66.56h0.9M325.7 66.56h-0.9M245.5 43.93h0.9M325.7 43.93h-0.9M245.5 21.3h0.9M325.7 21.3h-0.9M245.5 100.5v-0.9M245.5 21.3v0.9M276.83 100.5v-0.9M276.83 21.3v0.9M308.16 100.5v-0.9M308.16 21.3v0.9" class="tk"/>
<text x="243.1" y="91.79" class="yl">8</text>
<text x="243.1" y="69.16" class="yl">10</text>
<text x="243.1" y="46.53" class="yl">12</text>
<text x="243.1" y="23.9" class="yl">14</text>
<text x="245.5" y="110.6" class="xl">0</text>
<text x="276.83" y="110.6" class="xl">100</text>
<text x="308.16" y="110.6" class="xl">200</text>
<text x="285.6" y="121" class="lb">Time points</text>
<text transform="translate(232.1 61.9) rotate(-90)" class="lb" style="font-size:7.9px">Amplitude</text>
<g clip-path="url(#c12)"><polyline points="245.50,202.66 246.00,201.92 246.50,201.17 247.00,200.41 247.50,199.64 248.01,198.86 248.51,198.08 249.01,197.29 249.51,196.49 250.01,195.69 250.51,194.88 251.01,194.06 251.52,193.24 252.02,192.41 252.52,191.57 253.02,190.72 253.52,189.87 254.02,189.01 254.52,188.13 255.02,187.24 255.53,186.34 256.03,185.41 256.53,184.47 257.03,183.51 257.53,182.52 258.03,181.52 258.53,180.50 259.03,179.46 259.54,178.42 260.04,177.38 260.54,176.34 261.04,175.30 261.54,174.26 262.04,173.23 262.54,172.20 263.04,171.17 263.55,170.14 264.05,169.11 264.55,168.08 265.05,167.07 265.55,166.08 266.05,165.12 266.55,164.18 267.05,163.27 267.56,162.39 268.06,161.54 268.56,160.70 269.06,159.89 269.56,159.09 270.06,158.32 270.56,157.57 271.06,156.86 271.56,156.17 272.07,155.52 272.57,154.90 273.07,154.32 273.57,153.77 274.07,153.25 274.57,152.75 275.07,152.28 275.57,151.82 276.08,151.38 276.58,150.97 277.08,150.56 277.58,150.18 278.08,149.80 278.58,149.43 279.08,149.08 279.59,148.73 280.09,148.39 280.59,148.06 281.09,147.76 281.59,147.47 282.09,147.21 282.59,146.98 283.09,146.78 283.60,146.60 284.10,146.44 284.60,146.30 285.10,146.17 285.60,146.05 286.10,145.94 286.60,145.85 287.10,145.77 287.61,145.70 288.11,145.64 288.61,145.59 289.11,145.55 289.61,145.51 290.11,145.48 290.61,145.45 291.11,145.43 291.62,145.42 292.12,145.41 292.62,145.40 293.12,145.40 293.62,145.40 294.12,145.40 294.62,145.40 295.12,145.40 295.62,145.40 296.13,145.40 296.63,145.40 297.13,145.40 297.63,145.40 298.13,145.40 298.63,145.40 299.13,145.40 299.63,145.40 300.14,145.40 300.64,145.41 301.14,145.41 301.64,145.41 302.14,145.42 302.64,145.42 303.14,145.43 303.64,145.44 304.15,145.45 304.65,145.46 305.15,145.49 305.65,145.53 306.15,145.61 306.65,145.74 307.15,145.96 307.65,146.29 308.16,146.76 308.66,147.38 309.16,148.11 309.66,148.94 310.16,149.82 310.66,150.75 311.16,151.70 311.67,152.68 312.17,153.67 312.67,154.67 313.17,155.67 313.67,156.68 314.17,157.68 314.67,158.68 315.17,159.68 315.68,160.67 316.18,161.65 316.68,162.63 317.18,163.60 317.68,164.56 318.18,165.51 318.68,166.44 319.18,167.35 319.69,168.22 320.19,169.04 320.69,169.82 321.19,170.55 321.69,171.24 322.19,171.90 322.69,172.52 323.19,173.11 323.69,173.66 324.20,174.18 324.70,174.67 325.20,175.12 325.70,175.55" class="cv"/></g>
<rect x="245.5" y="137.5" width="80.2" height="79" class="ax"/>
<path d="M245.5 216.5h0.9M325.7 216.5h-0.9M245.5 177h0.9M325.7 177h-0.9M245.5 137.5h0.9M325.7 137.5h-0.9M245.5 216.5v-1.2M245.5 137.5v1.2M257.43 216.5v-1.2M257.43 137.5v1.2M269.36 216.5v-1.2M269.36 137.5v1.2M281.29 216.5v-1.2M281.29 137.5v1.2M293.22 216.5v-1.2M293.22 137.5v1.2M305.15 216.5v-1.2M305.15 137.5v1.2M317.08 216.5v-1.2M317.08 137.5v1.2" class="tk"/>
<path d="M249.09 216.5v-0.6M249.09 137.5v0.6M251.19 216.5v-0.6M251.19 137.5v0.6M252.68 216.5v-0.6M252.68 137.5v0.6M253.84 216.5v-0.6M253.84 137.5v0.6M254.78 216.5v-0.6M254.78 137.5v0.6M255.58 216.5v-0.6M255.58 137.5v0.6M256.27 216.5v-0.6M256.27 137.5v0.6M256.88 216.5v-0.6M256.88 137.5v0.6M261.02 216.5v-0.6M261.02 137.5v0.6M263.12 216.5v-0.6M263.12 137.5v0.6M264.61 216.5v-0.6M264.61 137.5v0.6M265.77 216.5v-0.6M265.77 137.5v0.6M266.71 216.5v-0.6M266.71 137.5v0.6M267.51 216.5v-0.6M267.51 137.5v0.6M268.20 216.5v-0.6M268.20 137.5v0.6M268.81 216.5v-0.6M268.81 137.5v0.6M272.95 216.5v-0.6M272.95 137.5v0.6M275.05 216.5v-0.6M275.05 137.5v0.6M276.54 216.5v-0.6M276.54 137.5v0.6M277.70 216.5v-0.6M277.70 137.5v0.6M278.64 216.5v-0.6M278.64 137.5v0.6M279.44 216.5v-0.6M279.44 137.5v0.6M280.13 216.5v-0.6M280.13 137.5v0.6M280.74 216.5v-0.6M280.74 137.5v0.6M284.88 216.5v-0.6M284.88 137.5v0.6M286.98 216.5v-0.6M286.98 137.5v0.6M288.47 216.5v-0.6M288.47 137.5v0.6M289.63 216.5v-0.6M289.63 137.5v0.6M290.57 216.5v-0.6M290.57 137.5v0.6M291.37 216.5v-0.6M291.37 137.5v0.6M292.06 216.5v-0.6M292.06 137.5v0.6M292.67 216.5v-0.6M292.67 137.5v0.6M296.81 216.5v-0.6M296.81 137.5v0.6M298.91 216.5v-0.6M298.91 137.5v0.6M300.40 216.5v-0.6M300.40 137.5v0.6M301.56 216.5v-0.6M301.56 137.5v0.6M302.50 216.5v-0.6M302.50 137.5v0.6M303.30 216.5v-0.6M303.30 137.5v0.6M303.99 216.5v-0.6M303.99 137.5v0.6M304.60 216.5v-0.6M304.60 137.5v0.6M308.74 216.5v-0.6M308.74 137.5v0.6M310.84 216.5v-0.6M310.84 137.5v0.6M312.33 216.5v-0.6M312.33 137.5v0.6M313.49 216.5v-0.6M313.49 137.5v0.6M314.43 216.5v-0.6M314.43 137.5v0.6M315.23 216.5v-0.6M315.23 137.5v0.6M315.92 216.5v-0.6M315.92 137.5v0.6M316.53 216.5v-0.6M316.53 137.5v0.6M320.67 216.5v-0.6M320.67 137.5v0.6M322.77 216.5v-0.6M322.77 137.5v0.6M324.26 216.5v-0.6M324.26 137.5v0.6" class="mt"/>
<path d="M245.5 137.5H325.7M245.5 216.5H325.7" class="hx"/>
<text x="243.1" y="219.1" class="yl">0</text>
<text x="243.1" y="179.6" class="yl">0.5</text>
<text x="243.1" y="140.1" class="yl">1</text>
<text x="245.2" y="228.3" class="xl xe">10<tspan class="sp" dy="-4">-6</tspan></text>
<text x="269.06" y="228.3" class="xl xe">10<tspan class="sp" dy="-4">-4</tspan></text>
<text x="292.92" y="228.3" class="xl xe">10<tspan class="sp" dy="-4">-2</tspan></text>
<text x="316.78" y="228.3" class="xl xe">10<tspan class="sp" dy="-4">0</tspan></text>
<text x="285.6" y="238.5" class="lam">λ</text>
<text transform="translate(229.8 177) rotate(-90)" class="lb" style="font-size:8.1px">Correlation value</text>
<text x="285.6" y="295.7" class="ti">SNR = 2</text>
<g clip-path="url(#c22)">
<polyline points="245.50,346.06 245.81,361.99 246.13,344.41 246.44,347.94 246.75,349.86 247.07,341.94 247.38,350.11 247.69,348.37 248.01,348.47 248.32,338.44 248.63,343.37 248.95,346.30 249.26,341.85 249.57,351.00 249.89,337.79 250.20,345.21 250.51,354.00 250.83,352.40 251.14,338.35 251.45,343.24 251.77,343.09 252.08,337.92 252.39,345.76 252.71,360.55 253.02,348.11 253.33,342.51 253.65,341.91 253.96,354.12 254.27,340.65 254.59,348.98 254.90,346.34 255.21,341.06 255.53,361.44 255.84,348.99 256.15,335.37 256.46,345.10 256.78,342.77 257.09,341.60 257.40,351.79 257.72,348.90 258.03,350.03 258.34,349.10 258.66,350.34 258.97,341.97 259.28,334.89 259.60,349.53 259.91,336.14 260.22,340.07 260.54,338.42 260.85,338.98 261.16,336.38 261.48,328.87 261.79,327.20 262.10,323.17 262.42,326.52 262.73,329.77 263.04,335.16 263.36,335.45 263.67,331.53 263.98,333.64 264.30,345.36 264.61,331.57 264.92,330.82 265.24,342.34 265.55,338.42 265.86,344.36 266.18,339.48 266.49,346.39 266.80,348.56 267.12,347.60 267.43,347.89 267.74,346.01 268.06,357.46 268.37,347.18 268.68,345.44 269.00,354.29 269.31,336.80 269.62,333.72 269.94,353.26 270.25,347.64 270.56,351.63 270.88,344.86 271.19,339.74 271.50,344.02 271.82,344.32 272.13,340.94 272.44,341.52 272.76,347.19 273.07,341.81 273.38,340.58 273.70,354.73 274.01,342.29 274.32,351.65 274.64,345.58 274.95,344.51 275.26,347.89 275.57,343.72 275.89,345.15 276.20,344.74 276.51,342.98 276.83,338.08 277.14,341.80 277.45,343.19 277.77,330.85 278.08,344.55 278.39,336.79 278.71,326.33 279.02,341.16 279.33,335.11 279.65,326.34 279.96,335.62 280.27,314.57 280.59,339.40 280.90,336.72 281.21,341.62 281.53,335.66 281.84,335.43 282.15,336.80 282.47,337.85 282.78,331.08 283.09,344.44 283.41,340.52 283.72,334.77 284.03,346.36 284.35,335.18 284.66,324.80 284.97,329.04 285.29,345.14 285.60,346.15 285.91,341.41 286.23,342.21 286.54,336.93 286.85,338.07 287.17,349.31 287.48,334.70 287.79,333.41 288.11,343.69 288.42,350.16 288.73,342.81 289.05,346.77 289.36,345.67 289.67,349.22 289.99,338.71 290.30,345.07 290.61,335.08 290.93,340.30 291.24,326.76 291.55,340.39 291.87,343.29 292.18,346.26 292.49,345.94 292.81,341.81 293.12,338.22 293.43,329.35 293.75,343.09 294.06,347.42 294.37,342.73 294.69,344.72 295.00,339.56 295.31,339.86 295.62,344.17 295.94,340.86 296.25,349.08 296.56,342.48 296.88,332.46 297.19,344.54 297.50,345.92 297.82,345.03 298.13,346.98 298.44,342.42 298.76,348.32 299.07,353.93 299.38,342.09 299.70,341.24 300.01,340.99 300.32,348.43 300.64,336.21 300.95,343.84 301.26,336.05 301.58,343.99 301.89,341.77 302.20,342.60 302.52,336.72 302.83,345.42 303.14,344.33 303.46,343.92 303.77,348.79 304.08,339.15 304.40,339.54 304.71,345.56 305.02,341.53 305.34,325.53 305.65,327.77 305.96,324.83 306.28,328.02 306.59,333.25 306.90,325.23 307.22,323.62 307.53,307.68 307.84,319.31 308.16,329.04 308.47,307.06 308.78,330.94 309.10,321.39 309.41,319.06 309.72,326.88 310.04,320.38 310.35,324.45 310.66,310.08 310.98,336.26 311.29,329.10 311.60,336.06 311.92,337.94 312.23,337.10 312.54,338.39 312.86,346.09 313.17,339.34 313.48,345.86 313.80,349.88 314.11,353.49 314.42,339.23 314.74,345.77 315.05,345.61 315.36,342.75 315.68,332.61 315.99,341.25 316.30,345.87 316.61,356.83 316.93,340.05 317.24,349.90 317.55,344.41 317.87,341.13 318.18,333.24 318.49,350.44 318.81,340.16 319.12,336.75 319.43,345.24 319.75,345.28 320.06,339.48 320.37,325.79 320.69,343.22 321.00,335.04 321.31,332.14 321.63,338.89 321.94,351.94 322.25,345.19 322.57,339.10 322.88,332.59 323.19,341.33 323.51,336.19 323.82,344.66 324.13,344.45 324.45,350.28 324.76,346.62 325.07,340.83 325.39,351.50 325.70,321.90" class="ob"/>
<polyline points="245.50,344.56 245.81,344.56 246.13,344.56 246.44,344.56 246.75,344.56 247.07,344.56 247.38,344.56 247.69,344.56 248.01,344.56 248.32,344.56 248.63,344.56 248.95,344.56 249.26,344.56 249.57,344.56 249.89,344.56 250.20,344.56 250.51,344.56 250.83,344.56 251.14,344.56 251.45,344.56 251.77,344.56 252.08,344.55 252.39,344.53 252.71,344.51 253.02,344.47 253.33,344.43 253.65,344.39 253.96,344.34 254.27,344.30 254.59,344.25 254.90,344.22 255.21,344.19 255.53,344.16 255.84,344.14 256.15,344.11 256.46,344.09 256.78,344.06 257.09,344.03 257.40,343.99 257.72,343.94 258.03,343.88 258.34,343.76 258.66,343.55 258.97,343.25 259.28,342.86 259.60,341.92 259.91,340.28 260.22,338.37 260.54,336.64 260.85,335.06 261.16,333.48 261.48,332.10 261.79,331.05 262.10,330.13 262.42,329.38 262.73,328.94 263.04,328.73 263.36,328.61 263.67,328.77 263.98,329.42 264.30,330.55 264.61,332.67 264.92,334.43 265.24,336.08 265.55,337.63 265.86,339.04 266.18,340.34 266.49,341.67 266.80,342.79 267.12,343.43 267.43,343.70 267.74,343.91 268.06,344.05 268.37,344.10 268.68,344.10 269.00,344.10 269.31,344.10 269.62,344.10 269.94,344.10 270.25,344.10 270.56,344.10 270.88,344.10 271.19,344.08 271.50,344.04 271.82,344.00 272.13,343.96 272.44,343.91 272.76,343.87 273.07,343.83 273.38,343.79 273.70,343.77 274.01,343.75 274.32,343.74 274.64,343.73 274.95,343.72 275.26,343.71 275.57,343.70 275.89,343.68 276.20,343.65 276.51,343.42 276.83,342.91 277.14,342.29 277.45,341.50 277.77,340.45 278.08,339.30 278.39,338.22 278.71,337.11 279.02,336.01 279.33,335.28 279.65,334.89 279.96,334.60 280.27,334.49 280.59,334.70 280.90,335.18 281.21,335.73 281.53,336.31 281.84,337.01 282.15,337.77 282.47,338.56 282.78,339.33 283.09,340.07 283.41,340.91 283.72,341.75 284.03,342.44 284.35,342.86 284.66,343.08 284.97,343.27 285.29,343.43 285.60,343.55 285.91,343.63 286.23,343.65 286.54,343.65 286.85,343.63 287.17,343.60 287.48,343.57 287.79,343.54 288.11,343.51 288.42,343.47 288.73,343.45 289.05,343.43 289.36,343.43 289.67,343.43 289.99,343.43 290.30,343.43 290.61,343.43 290.93,343.43 291.24,343.43 291.55,343.43 291.87,343.43 292.18,343.43 292.49,343.43 292.81,343.43 293.12,343.43 293.43,343.43 293.75,343.43 294.06,343.43 294.37,343.43 294.69,343.43 295.00,343.43 295.31,343.42 295.62,343.41 295.94,343.38 296.25,343.35 296.56,343.32 296.88,343.28 297.19,343.25 297.50,343.21 297.82,343.17 298.13,343.14 298.44,343.11 298.76,343.09 299.07,343.07 299.38,343.06 299.70,343.05 300.01,343.04 300.32,343.03 300.64,343.01 300.95,343.00 301.26,342.97 301.58,342.92 301.89,342.83 302.20,342.69 302.52,342.51 302.83,342.29 303.14,341.94 303.46,341.36 303.77,340.60 304.08,339.69 304.40,338.29 304.71,336.32 305.02,334.21 305.34,332.29 305.65,330.26 305.96,328.23 306.28,326.44 306.59,325.10 306.90,324.12 307.22,323.32 307.53,322.83 307.84,322.55 308.16,322.35 308.47,322.27 308.78,322.48 309.10,322.99 309.41,323.63 309.72,324.50 310.04,325.72 310.35,327.14 310.66,328.60 310.98,330.16 311.29,331.88 311.60,333.63 311.92,335.38 312.23,337.29 312.54,339.08 312.86,340.37 313.17,341.25 313.48,342.02 313.80,342.65 314.11,343.06 314.42,343.23 314.74,343.31 315.05,343.37 315.36,343.41 315.68,343.43 315.99,343.41 316.30,343.35 316.61,343.27 316.93,343.17 317.24,343.05 317.55,342.93 317.87,342.79 318.18,342.67 318.49,342.55 318.81,342.45 319.12,342.37 319.43,342.31 319.75,342.29 320.06,342.29 320.37,342.29 320.69,342.29 321.00,342.29 321.31,342.29 321.63,342.29 321.94,342.29 322.25,342.29 322.57,342.29 322.88,342.29 323.19,342.29 323.51,342.29 323.82,342.29 324.13,342.29 324.45,342.29 324.76,342.29 325.07,342.29 325.39,342.29 325.70,342.29" class="gt"/>
</g>
<rect x="250.3" y="352.8" width="71.6" height="20.8" class="lg"/>
<line x1="252.8" x2="278.2" y1="358.9" y2="358.9" class="obl"/>
<line x1="252.8" x2="278.2" y1="368.4" y2="368.4" class="gtl"/>
<text x="280.7" y="361.3" class="lt">Observed</text>
<text x="280.7" y="370.8" class="lt">Ground truth</text>
<rect x="245.5" y="299.3" width="80.2" height="79.2" class="ax"/>
<path d="M245.5 367.19h0.9M325.7 367.19h-0.9M245.5 344.56h0.9M325.7 344.56h-0.9M245.5 321.93h0.9M325.7 321.93h-0.9M245.5 299.3h0.9M325.7 299.3h-0.9M245.5 378.5v-0.9M245.5 299.3v0.9M276.83 378.5v-0.9M276.83 299.3v0.9M308.16 378.5v-0.9M308.16 299.3v0.9" class="tk"/>
<text x="243.1" y="369.79" class="yl">8</text>
<text x="243.1" y="347.16" class="yl">10</text>
<text x="243.1" y="324.53" class="yl">12</text>
<text x="243.1" y="301.9" class="yl">14</text>
<text x="245.5" y="388.6" class="xl">0</text>
<text x="276.83" y="388.6" class="xl">100</text>
<text x="308.16" y="388.6" class="xl">200</text>
<text x="285.6" y="399" class="lb">Time points</text>
<text transform="translate(232.1 339.9) rotate(-90)" class="lb" style="font-size:7.9px">Amplitude</text>
<g clip-path="url(#c32)"><polyline points="245.50,486.17 246.00,485.68 246.50,485.18 247.00,484.66 247.50,484.12 248.01,483.57 248.51,482.99 249.01,482.41 249.51,481.80 250.01,481.19 250.51,480.55 251.01,479.91 251.52,479.24 252.02,478.55 252.52,477.85 253.02,477.12 253.52,476.38 254.02,475.62 254.52,474.84 255.02,474.05 255.53,473.25 256.03,472.43 256.53,471.59 257.03,470.73 257.53,469.86 258.03,468.96 258.53,468.04 259.03,467.11 259.54,466.17 260.04,465.22 260.54,464.26 261.04,463.29 261.54,462.32 262.04,461.35 262.54,460.37 263.04,459.38 263.55,458.39 264.05,457.39 264.55,456.39 265.05,455.39 265.55,454.39 266.05,453.39 266.55,452.39 267.05,451.40 267.56,450.41 268.06,449.42 268.56,448.43 269.06,447.45 269.56,446.48 270.06,445.54 270.56,444.63 271.06,443.74 271.56,442.90 272.07,442.08 272.57,441.30 273.07,440.54 273.57,439.80 274.07,439.09 274.57,438.40 275.07,437.73 275.57,437.08 276.08,436.45 276.58,435.83 277.08,435.23 277.58,434.64 278.08,434.06 278.58,433.50 279.08,432.96 279.59,432.47 280.09,432.02 280.59,431.61 281.09,431.26 281.59,430.94 282.09,430.66 282.59,430.41 283.09,430.18 283.60,429.96 284.10,429.76 284.60,429.59 285.10,429.43 285.60,429.29 286.10,429.17 286.60,429.07 287.10,428.98 287.61,428.91 288.11,428.85 288.61,428.79 289.11,428.73 289.61,428.68 290.11,428.64 290.61,428.61 291.11,428.58 291.62,428.56 292.12,428.55 292.62,428.54 293.12,428.54 293.62,428.54 294.12,428.54 294.62,428.54 295.12,428.54 295.62,428.55 296.13,428.55 296.63,428.56 297.13,428.56 297.63,428.57 298.13,428.58 298.63,428.58 299.13,428.59 299.63,428.61 300.14,428.63 300.64,428.68 301.14,428.75 301.64,428.85 302.14,428.99 302.64,429.17 303.14,429.38 303.64,429.62 304.15,429.91 304.65,430.25 305.15,430.67 305.65,431.19 306.15,431.82 306.65,432.56 307.15,433.38 307.65,434.27 308.16,435.20 308.66,436.16 309.16,437.16 309.66,438.20 310.16,439.28 310.66,440.40 311.16,441.56 311.67,442.76 312.17,444.01 312.67,445.29 313.17,446.61 313.67,447.95 314.17,449.29 314.67,450.62 315.17,451.93 315.68,453.21 316.18,454.47 316.68,455.69 317.18,456.87 317.68,457.98 318.18,459.03 318.68,459.99 319.18,460.87 319.69,461.68 320.19,462.42 320.69,463.11 321.19,463.73 321.69,464.29 322.19,464.80 322.69,465.27 323.19,465.69 323.69,466.07 324.20,466.41 324.70,466.70 325.20,466.94 325.70,467.12" class="cv"/></g>
<rect x="245.5" y="415.5" width="80.2" height="79" class="ax"/>
<path d="M245.5 494.5h0.9M325.7 494.5h-0.9M245.5 455h0.9M325.7 455h-0.9M245.5 415.5h0.9M325.7 415.5h-0.9M245.5 494.5v-1.2M245.5 415.5v1.2M257.43 494.5v-1.2M257.43 415.5v1.2M269.36 494.5v-1.2M269.36 415.5v1.2M281.29 494.5v-1.2M281.29 415.5v1.2M293.22 494.5v-1.2M293.22 415.5v1.2M305.15 494.5v-1.2M305.15 415.5v1.2M317.08 494.5v-1.2M317.08 415.5v1.2" class="tk"/>
<path d="M249.09 494.5v-0.6M249.09 415.5v0.6M251.19 494.5v-0.6M251.19 415.5v0.6M252.68 494.5v-0.6M252.68 415.5v0.6M253.84 494.5v-0.6M253.84 415.5v0.6M254.78 494.5v-0.6M254.78 415.5v0.6M255.58 494.5v-0.6M255.58 415.5v0.6M256.27 494.5v-0.6M256.27 415.5v0.6M256.88 494.5v-0.6M256.88 415.5v0.6M261.02 494.5v-0.6M261.02 415.5v0.6M263.12 494.5v-0.6M263.12 415.5v0.6M264.61 494.5v-0.6M264.61 415.5v0.6M265.77 494.5v-0.6M265.77 415.5v0.6M266.71 494.5v-0.6M266.71 415.5v0.6M267.51 494.5v-0.6M267.51 415.5v0.6M268.20 494.5v-0.6M268.20 415.5v0.6M268.81 494.5v-0.6M268.81 415.5v0.6M272.95 494.5v-0.6M272.95 415.5v0.6M275.05 494.5v-0.6M275.05 415.5v0.6M276.54 494.5v-0.6M276.54 415.5v0.6M277.70 494.5v-0.6M277.70 415.5v0.6M278.64 494.5v-0.6M278.64 415.5v0.6M279.44 494.5v-0.6M279.44 415.5v0.6M280.13 494.5v-0.6M280.13 415.5v0.6M280.74 494.5v-0.6M280.74 415.5v0.6M284.88 494.5v-0.6M284.88 415.5v0.6M286.98 494.5v-0.6M286.98 415.5v0.6M288.47 494.5v-0.6M288.47 415.5v0.6M289.63 494.5v-0.6M289.63 415.5v0.6M290.57 494.5v-0.6M290.57 415.5v0.6M291.37 494.5v-0.6M291.37 415.5v0.6M292.06 494.5v-0.6M292.06 415.5v0.6M292.67 494.5v-0.6M292.67 415.5v0.6M296.81 494.5v-0.6M296.81 415.5v0.6M298.91 494.5v-0.6M298.91 415.5v0.6M300.40 494.5v-0.6M300.40 415.5v0.6M301.56 494.5v-0.6M301.56 415.5v0.6M302.50 494.5v-0.6M302.50 415.5v0.6M303.30 494.5v-0.6M303.30 415.5v0.6M303.99 494.5v-0.6M303.99 415.5v0.6M304.60 494.5v-0.6M304.60 415.5v0.6M308.74 494.5v-0.6M308.74 415.5v0.6M310.84 494.5v-0.6M310.84 415.5v0.6M312.33 494.5v-0.6M312.33 415.5v0.6M313.49 494.5v-0.6M313.49 415.5v0.6M314.43 494.5v-0.6M314.43 415.5v0.6M315.23 494.5v-0.6M315.23 415.5v0.6M315.92 494.5v-0.6M315.92 415.5v0.6M316.53 494.5v-0.6M316.53 415.5v0.6M320.67 494.5v-0.6M320.67 415.5v0.6M322.77 494.5v-0.6M322.77 415.5v0.6M324.26 494.5v-0.6M324.26 415.5v0.6" class="mt"/>
<path d="M245.5 415.5H325.7M245.5 494.5H325.7" class="hx"/>
<text x="243.1" y="497.1" class="yl">0</text>
<text x="243.1" y="457.6" class="yl">0.5</text>
<text x="243.1" y="418.1" class="yl">1</text>
<text x="245.2" y="506.3" class="xl xe">10<tspan class="sp" dy="-4">-6</tspan></text>
<text x="269.06" y="506.3" class="xl xe">10<tspan class="sp" dy="-4">-4</tspan></text>
<text x="292.92" y="506.3" class="xl xe">10<tspan class="sp" dy="-4">-2</tspan></text>
<text x="316.78" y="506.3" class="xl xe">10<tspan class="sp" dy="-4">0</tspan></text>
<text x="285.6" y="516.5" class="lam">λ</text>
<text transform="translate(229.8 455) rotate(-90)" class="lb" style="font-size:8.1px">Correlation value</text>
<text x="394.35" y="17.7" class="ti">SNR = 1</text>
<g clip-path="url(#c03)">
<polyline points="354.25,76.18 354.56,51.49 354.88,70.97 355.19,89.21 355.50,26.73 355.82,69.91 356.13,66.70 356.44,68.89 356.76,68.61 357.07,60.80 357.38,71.59 357.70,68.06 358.01,71.57 358.32,70.76 358.64,50.23 358.95,41.34 359.26,64.67 359.58,68.55 359.89,56.66 360.20,55.19 360.52,74.54 360.83,71.38 361.14,58.13 361.46,50.31 361.77,54.25 362.08,59.30 362.40,74.34 362.71,48.49 363.02,36.99 363.34,60.61 363.65,51.71 363.96,38.83 364.27,12.79 364.59,52.82 364.90,5.91 365.21,45.37 365.53,37.28 365.84,29.81 366.15,60.49 366.47,44.37 366.78,19.95 367.09,48.04 367.41,74.29 367.72,52.97 368.03,45.18 368.35,31.81 368.66,41.43 368.97,47.50 369.29,60.70 369.60,34.06 369.91,47.72 370.23,59.95 370.54,44.43 370.85,54.89 371.17,45.44 371.48,33.56 371.79,33.65 372.11,68.79 372.42,46.45 372.73,41.00 373.05,67.89 373.36,46.93 373.67,55.46 373.99,88.90 374.30,60.03 374.61,56.74 374.93,81.03 375.24,67.25 375.55,84.76 375.87,63.94 376.18,85.60 376.49,72.82 376.81,71.40 377.12,63.02 377.43,72.23 377.75,61.01 378.06,57.54 378.37,75.21 378.69,84.01 379.00,62.74 379.31,65.50 379.63,85.22 379.94,66.75 380.25,61.19 380.57,44.09 380.88,76.80 381.19,61.64 381.51,60.95 381.82,53.45 382.13,50.24 382.45,65.62 382.76,32.73 383.07,73.25 383.39,47.82 383.70,21.17 384.01,71.67 384.32,51.26 384.64,40.99 384.95,63.20 385.26,63.71 385.58,76.72 385.89,65.69 386.20,64.91 386.52,77.32 386.83,69.67 387.14,68.72 387.46,71.64 387.77,59.55 388.08,68.31 388.40,67.55 388.71,76.52 389.02,74.68 389.34,90.82 389.65,65.22 389.96,59.27 390.28,53.37 390.59,58.49 390.90,64.26 391.22,73.16 391.53,43.40 391.84,53.16 392.16,64.24 392.47,63.26 392.78,54.76 393.10,57.25 393.41,51.88 393.72,56.84 394.04,67.81 394.35,48.97 394.66,10.30 394.98,42.48 395.29,47.54 395.60,44.17 395.92,55.54 396.23,37.11 396.54,43.97 396.86,37.43 397.17,46.50 397.48,41.43 397.80,51.82 398.11,70.99 398.42,48.80 398.74,40.72 399.05,47.01 399.36,45.26 399.68,45.83 399.99,52.68 400.30,55.21 400.62,57.17 400.93,51.15 401.24,59.20 401.56,54.62 401.87,52.41 402.18,59.05 402.50,50.87 402.81,40.35 403.12,53.94 403.44,35.06 403.75,60.30 404.06,40.79 404.38,60.99 404.69,58.47 405.00,62.06 405.31,76.12 405.63,80.44 405.94,61.77 406.25,62.07 406.57,65.63 406.88,54.71 407.19,72.11 407.51,59.27 407.82,66.69 408.13,84.48 408.45,62.62 408.76,57.97 409.07,54.08 409.39,56.52 409.70,76.89 410.01,72.98 410.33,59.21 410.64,65.26 410.95,54.69 411.27,76.27 411.58,44.83 411.89,44.12 412.21,66.72 412.52,51.94 412.83,39.90 413.15,63.81 413.46,71.58 413.77,93.82 414.09,73.58 414.40,59.61 414.71,77.55 415.03,59.95 415.34,49.00 415.65,48.35 415.97,68.29 416.28,68.06 416.59,68.72 416.91,55.22 417.22,51.86 417.53,41.31 417.85,54.67 418.16,31.13 418.47,48.51 418.79,63.31 419.10,52.25 419.41,47.04 419.73,39.45 420.04,35.98 420.35,58.15 420.67,47.99 420.98,45.07 421.29,46.38 421.61,42.14 421.92,33.47 422.23,50.01 422.55,44.04 422.86,53.61 423.17,49.75 423.49,34.82 423.80,54.62 424.11,51.86 424.43,35.58 424.74,57.79 425.05,49.81 425.36,45.53 425.68,50.28 425.99,16.86 426.30,66.11 426.62,48.03 426.93,64.78 427.24,57.86 427.56,99.90 427.87,41.66 428.18,71.43 428.50,74.67 428.81,64.47 429.12,66.72 429.44,61.66 429.75,58.99 430.06,54.41 430.38,49.92 430.69,101.25 431.00,66.79 431.32,70.72 431.63,97.55 431.94,52.18 432.26,64.65 432.57,72.83 432.88,63.00 433.20,59.94 433.51,57.33 433.82,63.57 434.14,70.28 434.45,68.09" class="ob"/>
<polyline points="354.25,66.56 354.56,66.56 354.88,66.56 355.19,66.56 355.50,66.56 355.82,66.56 356.13,66.56 356.44,66.56 356.76,66.56 357.07,66.56 357.38,66.56 357.70,66.56 358.01,66.56 358.32,66.52 358.64,66.40 358.95,66.22 359.26,65.16 359.58,63.18 359.89,61.34 360.20,59.54 360.52,57.68 360.83,55.81 361.14,53.77 361.46,51.72 361.77,50.15 362.08,49.05 362.40,48.11 362.71,47.37 363.02,46.87 363.34,46.52 363.65,46.21 363.96,45.96 364.27,45.80 364.59,45.74 364.90,45.74 365.21,45.75 365.53,45.76 365.84,45.77 366.15,45.79 366.47,45.81 366.78,45.83 367.09,45.85 367.41,45.89 367.72,45.96 368.03,46.05 368.35,46.15 368.66,46.27 368.97,46.40 369.29,46.53 369.60,46.67 369.91,46.84 370.23,47.06 370.54,47.32 370.85,47.72 371.17,48.29 371.48,49.02 371.79,50.11 372.11,51.54 372.42,52.98 372.73,54.26 373.05,55.54 373.36,56.94 373.67,58.70 373.99,60.68 374.30,62.47 374.61,63.76 374.93,64.89 375.24,65.80 375.55,66.33 375.87,66.60 376.18,66.82 376.49,66.96 376.81,67.01 377.12,67.01 377.43,66.99 377.75,66.97 378.06,66.94 378.37,66.90 378.69,66.84 379.00,66.78 379.31,66.57 379.63,66.11 379.94,65.51 380.25,64.86 380.57,64.05 380.88,63.02 381.19,61.92 381.51,60.90 381.82,59.87 382.13,58.72 382.45,57.63 382.76,56.74 383.07,56.22 383.39,56.19 383.70,56.49 384.01,56.94 384.32,57.82 384.64,59.22 384.95,60.75 385.26,62.03 385.58,63.09 385.89,64.12 386.20,64.95 386.52,65.43 386.83,65.65 387.14,65.84 387.46,65.98 387.77,66.07 388.08,66.10 388.40,66.05 388.71,65.91 389.02,65.71 389.34,65.46 389.65,65.20 389.96,64.89 390.28,64.49 390.59,64.00 390.90,63.43 391.22,62.77 391.53,62.03 391.84,60.99 392.16,59.53 392.47,57.83 392.78,56.05 393.10,54.38 393.41,52.98 393.72,51.78 394.04,50.62 394.35,49.55 394.66,48.63 394.98,47.89 395.29,47.30 395.60,46.78 395.92,46.34 396.23,45.95 396.54,45.63 396.86,45.32 397.17,45.02 397.48,44.81 397.80,44.72 398.11,44.75 398.42,44.83 398.74,44.96 399.05,45.13 399.36,45.31 399.68,45.51 399.99,45.76 400.30,46.10 400.62,46.54 400.93,47.10 401.24,47.99 401.56,49.29 401.87,50.72 402.18,52.31 402.50,54.09 402.81,55.81 403.12,57.38 403.44,58.89 403.75,60.33 404.06,61.82 404.38,63.25 404.69,64.29 405.00,65.03 405.31,65.69 405.63,66.15 405.94,66.33 406.25,66.30 406.57,66.22 406.88,66.12 407.19,65.99 407.51,65.88 407.82,65.74 408.13,65.57 408.45,65.40 408.76,65.26 409.07,65.20 409.39,65.18 409.70,65.17 410.01,65.16 410.33,65.16 410.64,65.15 410.95,65.15 411.27,65.14 411.58,65.14 411.89,65.14 412.21,65.13 412.52,65.13 412.83,65.12 413.15,65.11 413.46,65.10 413.77,65.09 414.09,65.06 414.40,65.00 414.71,64.92 415.03,64.81 415.34,64.67 415.65,64.50 415.97,64.29 416.28,63.73 416.59,62.62 416.91,61.15 417.22,59.53 417.53,57.96 417.85,56.28 418.16,54.35 418.47,52.36 418.79,50.52 419.10,49.02 419.41,47.79 419.73,46.68 420.04,45.74 420.35,45.06 420.67,44.53 420.98,44.06 421.29,43.72 421.61,43.59 421.92,43.67 422.23,43.88 422.55,44.17 422.86,44.49 423.17,44.90 423.49,45.43 423.80,46.06 424.11,46.76 424.43,47.57 424.74,48.53 425.05,49.59 425.36,50.72 425.68,51.97 425.99,53.30 426.30,54.68 426.62,56.23 426.93,57.94 427.24,59.57 427.56,60.90 427.87,61.98 428.18,62.97 428.50,63.77 428.81,64.29 429.12,64.64 429.44,64.93 429.75,65.12 430.06,65.20 430.38,65.20 430.69,65.20 431.00,65.20 431.32,65.20 431.63,65.20 431.94,65.20 432.26,65.20 432.57,65.20 432.88,65.20 433.20,65.20 433.51,65.20 433.82,65.20 434.14,65.20 434.45,65.20" class="gt"/>
</g>
<rect x="359.05" y="74.8" width="71.6" height="20.8" class="lg"/>
<line x1="361.55" x2="386.95" y1="80.9" y2="80.9" class="obl"/>
<line x1="361.55" x2="386.95" y1="90.4" y2="90.4" class="gtl"/>
<text x="389.45" y="83.3" class="lt">Observed</text>
<text x="389.45" y="92.8" class="lt">Ground truth</text>
<rect x="354.25" y="21.3" width="80.2" height="79.2" class="ax"/>
<path d="M354.25 89.19h0.9M434.45 89.19h-0.9M354.25 66.56h0.9M434.45 66.56h-0.9M354.25 43.93h0.9M434.45 43.93h-0.9M354.25 21.3h0.9M434.45 21.3h-0.9M354.25 100.5v-0.9M354.25 21.3v0.9M385.58 100.5v-0.9M385.58 21.3v0.9M416.91 100.5v-0.9M416.91 21.3v0.9" class="tk"/>
<text x="351.85" y="91.79" class="yl">8</text>
<text x="351.85" y="69.16" class="yl">10</text>
<text x="351.85" y="46.53" class="yl">12</text>
<text x="351.85" y="23.9" class="yl">14</text>
<text x="354.25" y="110.6" class="xl">0</text>
<text x="385.58" y="110.6" class="xl">100</text>
<text x="416.91" y="110.6" class="xl">200</text>
<text x="394.35" y="121" class="lb">Time points</text>
<text transform="translate(340.85 61.9) rotate(-90)" class="lb" style="font-size:7.9px">Amplitude</text>
<g clip-path="url(#c13)"><polyline points="354.25,212.12 354.75,211.99 355.25,211.83 355.75,211.66 356.25,211.48 356.76,211.28 357.26,211.07 357.76,210.85 358.26,210.62 358.76,210.38 359.26,210.13 359.76,209.87 360.26,209.60 360.77,209.32 361.27,209.02 361.77,208.71 362.27,208.38 362.77,208.03 363.27,207.66 363.77,207.28 364.27,206.89 364.78,206.49 365.28,206.07 365.78,205.65 366.28,205.22 366.78,204.79 367.28,204.36 367.78,203.92 368.29,203.47 368.79,203.01 369.29,202.53 369.79,202.05 370.29,201.54 370.79,201.02 371.29,200.47 371.79,199.90 372.30,199.29 372.80,198.64 373.30,197.96 373.80,197.22 374.30,196.45 374.80,195.64 375.30,194.79 375.80,193.92 376.31,193.04 376.81,192.14 377.31,191.22 377.81,190.30 378.31,189.35 378.81,188.38 379.31,187.39 379.81,186.38 380.31,185.35 380.82,184.30 381.32,183.22 381.82,182.11 382.32,180.97 382.82,179.80 383.32,178.60 383.82,177.40 384.32,176.19 384.83,175.00 385.33,173.84 385.83,172.70 386.33,171.59 386.83,170.50 387.33,169.44 387.83,168.39 388.34,167.38 388.84,166.39 389.34,165.43 389.84,164.51 390.34,163.63 390.84,162.78 391.34,161.95 391.84,161.15 392.35,160.38 392.85,159.65 393.35,158.94 393.85,158.27 394.35,157.64 394.85,157.05 395.35,156.48 395.85,155.94 396.36,155.43 396.86,154.93 397.36,154.47 397.86,154.03 398.36,153.62 398.86,153.24 399.36,152.89 399.86,152.58 400.37,152.29 400.87,152.02 401.37,151.78 401.87,151.55 402.37,151.34 402.87,151.14 403.37,150.95 403.87,150.77 404.38,150.59 404.88,150.43 405.38,150.27 405.88,150.11 406.38,149.95 406.88,149.81 407.38,149.66 407.88,149.53 408.38,149.42 408.89,149.31 409.39,149.22 409.89,149.15 410.39,149.09 410.89,149.04 411.39,148.99 411.89,148.96 412.39,148.93 412.90,148.92 413.40,148.93 413.90,148.98 414.40,149.06 414.90,149.18 415.40,149.35 415.90,149.57 416.40,149.84 416.91,150.17 417.41,150.56 417.91,151.01 418.41,151.52 418.91,152.09 419.41,152.72 419.91,153.40 420.42,154.13 420.92,154.90 421.42,155.72 421.92,156.59 422.42,157.50 422.92,158.45 423.42,159.43 423.92,160.42 424.43,161.41 424.93,162.37 425.43,163.32 425.93,164.25 426.43,165.15 426.93,166.04 427.43,166.92 427.93,167.78 428.44,168.63 428.94,169.47 429.44,170.28 429.94,171.06 430.44,171.78 430.94,172.44 431.44,173.02 431.94,173.53 432.44,173.97 432.95,174.35 433.45,174.67 433.95,174.92 434.45,175.10" class="cv"/></g>
<rect x="354.25" y="137.5" width="80.2" height="79" class="ax"/>
<path d="M354.25 216.5h0.9M434.45 216.5h-0.9M354.25 177h0.9M434.45 177h-0.9M354.25 137.5h0.9M434.45 137.5h-0.9M354.25 216.5v-1.2M354.25 137.5v1.2M366.18 216.5v-1.2M366.18 137.5v1.2M378.11 216.5v-1.2M378.11 137.5v1.2M390.04 216.5v-1.2M390.04 137.5v1.2M401.97 216.5v-1.2M401.97 137.5v1.2M413.9 216.5v-1.2M413.9 137.5v1.2M425.83 216.5v-1.2M425.83 137.5v1.2" class="tk"/>
<path d="M357.84 216.5v-0.6M357.84 137.5v0.6M359.94 216.5v-0.6M359.94 137.5v0.6M361.43 216.5v-0.6M361.43 137.5v0.6M362.59 216.5v-0.6M362.59 137.5v0.6M363.53 216.5v-0.6M363.53 137.5v0.6M364.33 216.5v-0.6M364.33 137.5v0.6M365.02 216.5v-0.6M365.02 137.5v0.6M365.63 216.5v-0.6M365.63 137.5v0.6M369.77 216.5v-0.6M369.77 137.5v0.6M371.87 216.5v-0.6M371.87 137.5v0.6M373.36 216.5v-0.6M373.36 137.5v0.6M374.52 216.5v-0.6M374.52 137.5v0.6M375.46 216.5v-0.6M375.46 137.5v0.6M376.26 216.5v-0.6M376.26 137.5v0.6M376.95 216.5v-0.6M376.95 137.5v0.6M377.56 216.5v-0.6M377.56 137.5v0.6M381.70 216.5v-0.6M381.70 137.5v0.6M383.80 216.5v-0.6M383.80 137.5v0.6M385.29 216.5v-0.6M385.29 137.5v0.6M386.45 216.5v-0.6M386.45 137.5v0.6M387.39 216.5v-0.6M387.39 137.5v0.6M388.19 216.5v-0.6M388.19 137.5v0.6M388.88 216.5v-0.6M388.88 137.5v0.6M389.49 216.5v-0.6M389.49 137.5v0.6M393.63 216.5v-0.6M393.63 137.5v0.6M395.73 216.5v-0.6M395.73 137.5v0.6M397.22 216.5v-0.6M397.22 137.5v0.6M398.38 216.5v-0.6M398.38 137.5v0.6M399.32 216.5v-0.6M399.32 137.5v0.6M400.12 216.5v-0.6M400.12 137.5v0.6M400.81 216.5v-0.6M400.81 137.5v0.6M401.42 216.5v-0.6M401.42 137.5v0.6M405.56 216.5v-0.6M405.56 137.5v0.6M407.66 216.5v-0.6M407.66 137.5v0.6M409.15 216.5v-0.6M409.15 137.5v0.6M410.31 216.5v-0.6M410.31 137.5v0.6M411.25 216.5v-0.6M411.25 137.5v0.6M412.05 216.5v-0.6M412.05 137.5v0.6M412.74 216.5v-0.6M412.74 137.5v0.6M413.35 216.5v-0.6M413.35 137.5v0.6M417.49 216.5v-0.6M417.49 137.5v0.6M419.59 216.5v-0.6M419.59 137.5v0.6M421.08 216.5v-0.6M421.08 137.5v0.6M422.24 216.5v-0.6M422.24 137.5v0.6M423.18 216.5v-0.6M423.18 137.5v0.6M423.98 216.5v-0.6M423.98 137.5v0.6M424.67 216.5v-0.6M424.67 137.5v0.6M425.28 216.5v-0.6M425.28 137.5v0.6M429.42 216.5v-0.6M429.42 137.5v0.6M431.52 216.5v-0.6M431.52 137.5v0.6M433.01 216.5v-0.6M433.01 137.5v0.6" class="mt"/>
<path d="M354.25 137.5H434.45M354.25 216.5H434.45" class="hx"/>
<text x="351.85" y="219.1" class="yl">0</text>
<text x="351.85" y="179.6" class="yl">0.5</text>
<text x="351.85" y="140.1" class="yl">1</text>
<text x="353.95" y="228.3" class="xl xe">10<tspan class="sp" dy="-4">-6</tspan></text>
<text x="377.81" y="228.3" class="xl xe">10<tspan class="sp" dy="-4">-4</tspan></text>
<text x="401.67" y="228.3" class="xl xe">10<tspan class="sp" dy="-4">-2</tspan></text>
<text x="425.53" y="228.3" class="xl xe">10<tspan class="sp" dy="-4">0</tspan></text>
<text x="394.35" y="238.5" class="lam">λ</text>
<text transform="translate(338.55 177) rotate(-90)" class="lb" style="font-size:8.1px">Correlation value</text>
<text x="394.35" y="295.7" class="ti">SNR = 1</text>
<g clip-path="url(#c23)">
<polyline points="354.25,379.99 354.56,336.83 354.88,354.89 355.19,339.03 355.50,337.49 355.82,343.10 356.13,357.43 356.44,357.55 356.76,349.05 357.07,364.36 357.38,348.33 357.70,339.40 358.01,342.30 358.32,338.91 358.64,333.05 358.95,357.62 359.26,341.87 359.58,317.14 359.89,339.43 360.20,353.74 360.52,351.42 360.83,336.64 361.14,333.27 361.46,316.76 361.77,361.40 362.08,337.09 362.40,341.55 362.71,344.52 363.02,359.48 363.34,333.56 363.65,331.65 363.96,349.46 364.27,342.13 364.59,353.19 364.90,345.96 365.21,349.60 365.53,346.56 365.84,333.54 366.15,311.11 366.47,362.34 366.78,350.24 367.09,337.72 367.41,336.88 367.72,377.65 368.03,326.87 368.35,341.99 368.66,350.24 368.97,334.34 369.29,314.92 369.60,323.73 369.91,293.24 370.23,346.85 370.54,351.12 370.85,328.77 371.17,342.82 371.48,356.95 371.79,324.32 372.11,340.37 372.42,339.97 372.73,323.17 373.05,323.03 373.36,348.50 373.67,339.72 373.99,338.87 374.30,343.67 374.61,352.63 374.93,340.71 375.24,338.26 375.55,335.70 375.87,344.34 376.18,352.03 376.49,337.34 376.81,352.89 377.12,326.84 377.43,339.23 377.75,328.53 378.06,333.12 378.37,349.46 378.69,347.29 379.00,338.29 379.31,342.75 379.63,346.15 379.94,335.11 380.25,344.26 380.57,334.91 380.88,348.82 381.19,321.43 381.51,343.95 381.82,336.08 382.13,342.82 382.45,358.95 382.76,345.73 383.07,298.48 383.39,344.12 383.70,342.59 384.01,334.43 384.32,343.90 384.64,326.52 384.95,344.39 385.26,338.46 385.58,342.68 385.89,338.82 386.20,346.47 386.52,310.00 386.83,324.06 387.14,337.59 387.46,338.00 387.77,322.66 388.08,315.12 388.40,340.62 388.71,350.06 389.02,335.22 389.34,321.14 389.65,328.25 389.96,329.95 390.28,323.91 390.59,338.27 390.90,339.12 391.22,343.62 391.53,328.06 391.84,340.01 392.16,364.45 392.47,352.06 392.78,326.77 393.10,342.62 393.41,339.24 393.72,333.58 394.04,342.49 394.35,340.87 394.66,342.27 394.98,340.95 395.29,347.37 395.60,339.81 395.92,353.21 396.23,343.06 396.54,350.84 396.86,352.04 397.17,315.27 397.48,334.92 397.80,337.56 398.11,342.02 398.42,338.04 398.74,354.14 399.05,341.03 399.36,347.13 399.68,345.38 399.99,340.47 400.30,342.27 400.62,358.21 400.93,340.54 401.24,355.40 401.56,334.53 401.87,341.65 402.18,341.86 402.50,362.27 402.81,332.96 403.12,357.58 403.44,340.15 403.75,334.08 404.06,302.83 404.38,373.43 404.69,352.65 405.00,351.34 405.31,348.65 405.63,340.85 405.94,333.50 406.25,365.18 406.57,328.17 406.88,362.11 407.19,333.73 407.51,326.14 407.82,384.98 408.13,349.87 408.45,334.47 408.76,349.11 409.07,350.63 409.39,337.61 409.70,327.29 410.01,338.45 410.33,341.98 410.64,330.20 410.95,334.50 411.27,339.03 411.58,376.97 411.89,356.25 412.21,347.95 412.52,337.30 412.83,333.64 413.15,337.15 413.46,345.73 413.77,339.70 414.09,338.55 414.40,338.61 414.71,323.07 415.03,326.53 415.34,329.63 415.65,335.29 415.97,313.46 416.28,324.91 416.59,331.32 416.91,318.75 417.22,335.52 417.53,295.62 417.85,308.48 418.16,321.78 418.47,330.15 418.79,331.27 419.10,329.14 419.41,308.71 419.73,349.49 420.04,337.52 420.35,348.29 420.67,317.75 420.98,344.60 421.29,341.57 421.61,341.37 421.92,363.19 422.23,351.75 422.55,340.65 422.86,326.82 423.17,345.93 423.49,331.66 423.80,336.84 424.11,361.65 424.43,326.74 424.74,347.07 425.05,343.53 425.36,334.28 425.68,347.37 425.99,346.36 426.30,347.53 426.62,337.46 426.93,360.69 427.24,358.78 427.56,340.96 427.87,353.15 428.18,323.03 428.50,343.34 428.81,334.60 429.12,354.87 429.44,339.92 429.75,341.73 430.06,345.01 430.38,343.37 430.69,342.25 431.00,344.28 431.32,351.98 431.63,324.66 431.94,342.33 432.26,345.54 432.57,359.93 432.88,342.93 433.20,357.94 433.51,347.34 433.82,343.29 434.14,347.82 434.45,340.83" class="ob"/>
<polyline points="354.25,344.56 354.56,344.56 354.88,344.56 355.19,344.56 355.50,344.56 355.82,344.56 356.13,344.56 356.44,344.56 356.76,344.56 357.07,344.56 357.38,344.56 357.70,344.56 358.01,344.56 358.32,344.56 358.64,344.56 358.95,344.56 359.26,344.56 359.58,344.56 359.89,344.56 360.20,344.56 360.52,344.56 360.83,344.55 361.14,344.53 361.46,344.51 361.77,344.47 362.08,344.43 362.40,344.39 362.71,344.34 363.02,344.30 363.34,344.25 363.65,344.22 363.96,344.19 364.27,344.16 364.59,344.14 364.90,344.11 365.21,344.09 365.53,344.06 365.84,344.03 366.15,343.99 366.47,343.94 366.78,343.88 367.09,343.76 367.41,343.55 367.72,343.25 368.03,342.86 368.35,341.92 368.66,340.28 368.97,338.37 369.29,336.64 369.60,335.06 369.91,333.48 370.23,332.10 370.54,331.05 370.85,330.13 371.17,329.38 371.48,328.94 371.79,328.73 372.11,328.61 372.42,328.77 372.73,329.42 373.05,330.55 373.36,332.67 373.67,334.43 373.99,336.08 374.30,337.63 374.61,339.04 374.93,340.34 375.24,341.67 375.55,342.79 375.87,343.43 376.18,343.70 376.49,343.91 376.81,344.05 377.12,344.10 377.43,344.10 377.75,344.10 378.06,344.10 378.37,344.10 378.69,344.10 379.00,344.10 379.31,344.10 379.63,344.10 379.94,344.08 380.25,344.04 380.57,344.00 380.88,343.96 381.19,343.91 381.51,343.87 381.82,343.83 382.13,343.79 382.45,343.77 382.76,343.75 383.07,343.74 383.39,343.73 383.70,343.72 384.01,343.71 384.32,343.70 384.64,343.68 384.95,343.65 385.26,343.42 385.58,342.91 385.89,342.29 386.20,341.50 386.52,340.45 386.83,339.30 387.14,338.22 387.46,337.11 387.77,336.01 388.08,335.28 388.40,334.89 388.71,334.60 389.02,334.49 389.34,334.70 389.65,335.18 389.96,335.73 390.28,336.31 390.59,337.01 390.90,337.77 391.22,338.56 391.53,339.33 391.84,340.07 392.16,340.91 392.47,341.75 392.78,342.44 393.10,342.86 393.41,343.08 393.72,343.27 394.04,343.43 394.35,343.55 394.66,343.63 394.98,343.65 395.29,343.65 395.60,343.63 395.92,343.60 396.23,343.57 396.54,343.54 396.86,343.51 397.17,343.47 397.48,343.45 397.80,343.43 398.11,343.43 398.42,343.43 398.74,343.43 399.05,343.43 399.36,343.43 399.68,343.43 399.99,343.43 400.30,343.43 400.62,343.43 400.93,343.43 401.24,343.43 401.56,343.43 401.87,343.43 402.18,343.43 402.50,343.43 402.81,343.43 403.12,343.43 403.44,343.43 403.75,343.43 404.06,343.42 404.38,343.41 404.69,343.38 405.00,343.35 405.31,343.32 405.63,343.28 405.94,343.25 406.25,343.21 406.57,343.17 406.88,343.14 407.19,343.11 407.51,343.09 407.82,343.07 408.13,343.06 408.45,343.05 408.76,343.04 409.07,343.03 409.39,343.01 409.70,343.00 410.01,342.97 410.33,342.92 410.64,342.83 410.95,342.69 411.27,342.51 411.58,342.29 411.89,341.94 412.21,341.36 412.52,340.60 412.83,339.69 413.15,338.29 413.46,336.32 413.77,334.21 414.09,332.29 414.40,330.26 414.71,328.23 415.03,326.44 415.34,325.10 415.65,324.12 415.97,323.32 416.28,322.83 416.59,322.55 416.91,322.35 417.22,322.27 417.53,322.48 417.85,322.99 418.16,323.63 418.47,324.50 418.79,325.72 419.10,327.14 419.41,328.60 419.73,330.16 420.04,331.88 420.35,333.63 420.67,335.38 420.98,337.29 421.29,339.08 421.61,340.37 421.92,341.25 422.23,342.02 422.55,342.65 422.86,343.06 423.17,343.23 423.49,343.31 423.80,343.37 424.11,343.41 424.43,343.43 424.74,343.41 425.05,343.35 425.36,343.27 425.68,343.17 425.99,343.05 426.30,342.93 426.62,342.79 426.93,342.67 427.24,342.55 427.56,342.45 427.87,342.37 428.18,342.31 428.50,342.29 428.81,342.29 429.12,342.29 429.44,342.29 429.75,342.29 430.06,342.29 430.38,342.29 430.69,342.29 431.00,342.29 431.32,342.29 431.63,342.29 431.94,342.29 432.26,342.29 432.57,342.29 432.88,342.29 433.20,342.29 433.51,342.29 433.82,342.29 434.14,342.29 434.45,342.29" class="gt"/>
</g>
<rect x="359.05" y="352.8" width="71.6" height="20.8" class="lg"/>
<line x1="361.55" x2="386.95" y1="358.9" y2="358.9" class="obl"/>
<line x1="361.55" x2="386.95" y1="368.4" y2="368.4" class="gtl"/>
<text x="389.45" y="361.3" class="lt">Observed</text>
<text x="389.45" y="370.8" class="lt">Ground truth</text>
<rect x="354.25" y="299.3" width="80.2" height="79.2" class="ax"/>
<path d="M354.25 367.19h0.9M434.45 367.19h-0.9M354.25 344.56h0.9M434.45 344.56h-0.9M354.25 321.93h0.9M434.45 321.93h-0.9M354.25 299.3h0.9M434.45 299.3h-0.9M354.25 378.5v-0.9M354.25 299.3v0.9M385.58 378.5v-0.9M385.58 299.3v0.9M416.91 378.5v-0.9M416.91 299.3v0.9" class="tk"/>
<text x="351.85" y="369.79" class="yl">8</text>
<text x="351.85" y="347.16" class="yl">10</text>
<text x="351.85" y="324.53" class="yl">12</text>
<text x="351.85" y="301.9" class="yl">14</text>
<text x="354.25" y="388.6" class="xl">0</text>
<text x="385.58" y="388.6" class="xl">100</text>
<text x="416.91" y="388.6" class="xl">200</text>
<text x="394.35" y="399" class="lb">Time points</text>
<text transform="translate(340.85 339.9) rotate(-90)" class="lb" style="font-size:7.9px">Amplitude</text>
<g clip-path="url(#c33)"><polyline points="354.25,500.04 354.75,499.51 355.25,499.00 355.75,498.48 356.25,497.97 356.76,497.47 357.26,496.98 357.76,496.49 358.26,496.01 358.76,495.53 359.26,495.07 359.76,494.61 360.26,494.17 360.77,493.74 361.27,493.32 361.77,492.91 362.27,492.51 362.77,492.11 363.27,491.71 363.77,491.30 364.27,490.89 364.78,490.47 365.28,490.03 365.78,489.57 366.28,489.09 366.78,488.59 367.28,488.08 367.78,487.55 368.29,487.00 368.79,486.44 369.29,485.86 369.79,485.27 370.29,484.66 370.79,484.04 371.29,483.41 371.79,482.77 372.30,482.11 372.80,481.45 373.30,480.77 373.80,480.07 374.30,479.37 374.80,478.64 375.30,477.90 375.80,477.15 376.31,476.37 376.81,475.58 377.31,474.78 377.81,473.96 378.31,473.13 378.81,472.29 379.31,471.43 379.81,470.55 380.31,469.67 380.82,468.76 381.32,467.83 381.82,466.88 382.32,465.91 382.82,464.91 383.32,463.90 383.82,462.87 384.32,461.84 384.83,460.80 385.33,459.76 385.83,458.72 386.33,457.68 386.83,456.64 387.33,455.60 387.83,454.55 388.34,453.50 388.84,452.46 389.34,451.44 389.84,450.45 390.34,449.49 390.84,448.56 391.34,447.67 391.84,446.81 392.35,445.97 392.85,445.16 393.35,444.38 393.85,443.63 394.35,442.90 394.85,442.21 395.35,441.54 395.85,440.90 396.36,440.30 396.86,439.71 397.36,439.16 397.86,438.63 398.36,438.12 398.86,437.63 399.36,437.15 399.86,436.70 400.37,436.26 400.87,435.85 401.37,435.47 401.87,435.12 402.37,434.80 402.87,434.51 403.37,434.24 403.87,433.99 404.38,433.74 404.88,433.51 405.38,433.30 405.88,433.11 406.38,432.95 406.88,432.81 407.38,432.71 407.88,432.64 408.38,432.60 408.89,432.58 409.39,432.57 409.89,432.57 410.39,432.57 410.89,432.57 411.39,432.59 411.89,432.63 412.39,432.69 412.90,432.80 413.40,432.96 413.90,433.18 414.40,433.45 414.90,433.80 415.40,434.21 415.90,434.68 416.40,435.21 416.91,435.81 417.41,436.46 417.91,437.19 418.41,437.98 418.91,438.85 419.41,439.77 419.91,440.74 420.42,441.74 420.92,442.77 421.42,443.82 421.92,444.89 422.42,445.98 422.92,447.08 423.42,448.17 423.92,449.26 424.43,450.32 424.93,451.37 425.43,452.39 425.93,453.40 426.43,454.38 426.93,455.34 427.43,456.27 427.93,457.17 428.44,458.05 428.94,458.89 429.44,459.70 429.94,460.45 430.44,461.13 430.94,461.74 431.44,462.29 431.94,462.77 432.44,463.20 432.95,463.57 433.45,463.89 433.95,464.15 434.45,464.33" class="cv"/></g>
<rect x="354.25" y="415.5" width="80.2" height="79" class="ax"/>
<path d="M354.25 494.5h0.9M434.45 494.5h-0.9M354.25 455h0.9M434.45 455h-0.9M354.25 415.5h0.9M434.45 415.5h-0.9M354.25 494.5v-1.2M354.25 415.5v1.2M366.18 494.5v-1.2M366.18 415.5v1.2M378.11 494.5v-1.2M378.11 415.5v1.2M390.04 494.5v-1.2M390.04 415.5v1.2M401.97 494.5v-1.2M401.97 415.5v1.2M413.9 494.5v-1.2M413.9 415.5v1.2M425.83 494.5v-1.2M425.83 415.5v1.2" class="tk"/>
<path d="M357.84 494.5v-0.6M357.84 415.5v0.6M359.94 494.5v-0.6M359.94 415.5v0.6M361.43 494.5v-0.6M361.43 415.5v0.6M362.59 494.5v-0.6M362.59 415.5v0.6M363.53 494.5v-0.6M363.53 415.5v0.6M364.33 494.5v-0.6M364.33 415.5v0.6M365.02 494.5v-0.6M365.02 415.5v0.6M365.63 494.5v-0.6M365.63 415.5v0.6M369.77 494.5v-0.6M369.77 415.5v0.6M371.87 494.5v-0.6M371.87 415.5v0.6M373.36 494.5v-0.6M373.36 415.5v0.6M374.52 494.5v-0.6M374.52 415.5v0.6M375.46 494.5v-0.6M375.46 415.5v0.6M376.26 494.5v-0.6M376.26 415.5v0.6M376.95 494.5v-0.6M376.95 415.5v0.6M377.56 494.5v-0.6M377.56 415.5v0.6M381.70 494.5v-0.6M381.70 415.5v0.6M383.80 494.5v-0.6M383.80 415.5v0.6M385.29 494.5v-0.6M385.29 415.5v0.6M386.45 494.5v-0.6M386.45 415.5v0.6M387.39 494.5v-0.6M387.39 415.5v0.6M388.19 494.5v-0.6M388.19 415.5v0.6M388.88 494.5v-0.6M388.88 415.5v0.6M389.49 494.5v-0.6M389.49 415.5v0.6M393.63 494.5v-0.6M393.63 415.5v0.6M395.73 494.5v-0.6M395.73 415.5v0.6M397.22 494.5v-0.6M397.22 415.5v0.6M398.38 494.5v-0.6M398.38 415.5v0.6M399.32 494.5v-0.6M399.32 415.5v0.6M400.12 494.5v-0.6M400.12 415.5v0.6M400.81 494.5v-0.6M400.81 415.5v0.6M401.42 494.5v-0.6M401.42 415.5v0.6M405.56 494.5v-0.6M405.56 415.5v0.6M407.66 494.5v-0.6M407.66 415.5v0.6M409.15 494.5v-0.6M409.15 415.5v0.6M410.31 494.5v-0.6M410.31 415.5v0.6M411.25 494.5v-0.6M411.25 415.5v0.6M412.05 494.5v-0.6M412.05 415.5v0.6M412.74 494.5v-0.6M412.74 415.5v0.6M413.35 494.5v-0.6M413.35 415.5v0.6M417.49 494.5v-0.6M417.49 415.5v0.6M419.59 494.5v-0.6M419.59 415.5v0.6M421.08 494.5v-0.6M421.08 415.5v0.6M422.24 494.5v-0.6M422.24 415.5v0.6M423.18 494.5v-0.6M423.18 415.5v0.6M423.98 494.5v-0.6M423.98 415.5v0.6M424.67 494.5v-0.6M424.67 415.5v0.6M425.28 494.5v-0.6M425.28 415.5v0.6M429.42 494.5v-0.6M429.42 415.5v0.6M431.52 494.5v-0.6M431.52 415.5v0.6M433.01 494.5v-0.6M433.01 415.5v0.6" class="mt"/>
<path d="M354.25 415.5H434.45M354.25 494.5H434.45" class="hx"/>
<text x="351.85" y="497.1" class="yl">0</text>
<text x="351.85" y="457.6" class="yl">0.5</text>
<text x="351.85" y="418.1" class="yl">1</text>
<text x="353.95" y="506.3" class="xl xe">10<tspan class="sp" dy="-4">-6</tspan></text>
<text x="377.81" y="506.3" class="xl xe">10<tspan class="sp" dy="-4">-4</tspan></text>
<text x="401.67" y="506.3" class="xl xe">10<tspan class="sp" dy="-4">-2</tspan></text>
<text x="425.53" y="506.3" class="xl xe">10<tspan class="sp" dy="-4">0</tspan></text>
<text x="394.35" y="516.5" class="lam">λ</text>
<text transform="translate(338.55 455) rotate(-90)" class="lb" style="font-size:8.1px">Correlation value</text>
<text x="503.1" y="17.7" class="ti">SNR = 0.5</text>
<g clip-path="url(#c04)">
<polyline points="463.00,71.93 463.31,61.50 463.63,83.07 463.94,91.40 464.25,79.15 464.57,56.64 464.88,63.13 465.19,90.29 465.51,73.24 465.82,60.67 466.13,8.06 466.45,56.46 466.76,86.25 467.07,69.85 467.39,83.69 467.70,98.92 468.01,59.90 468.33,49.70 468.64,79.32 468.95,54.55 469.27,43.98 469.58,45.31 469.89,57.94 470.21,65.45 470.52,58.98 470.83,41.70 471.15,7.86 471.46,77.29 471.77,71.75 472.09,36.13 472.40,47.25 472.71,-31.91 473.02,53.99 473.34,57.49 473.65,18.78 473.96,13.97 474.28,60.04 474.59,70.10 474.90,58.72 475.22,38.05 475.53,39.71 475.84,41.35 476.16,74.95 476.47,40.04 476.78,45.21 477.10,10.57 477.41,35.82 477.72,12.20 478.04,95.25 478.35,26.23 478.66,27.08 478.98,38.92 479.29,39.22 479.60,45.06 479.92,78.75 480.23,62.60 480.54,40.53 480.86,55.99 481.17,53.88 481.48,35.24 481.80,41.22 482.11,15.98 482.42,45.36 482.74,54.20 483.05,108.22 483.36,79.17 483.68,49.42 483.99,83.87 484.30,57.05 484.62,94.64 484.93,39.92 485.24,25.50 485.56,66.54 485.87,63.04 486.18,109.41 486.50,134.25 486.81,43.02 487.12,55.15 487.44,80.20 487.75,65.43 488.06,70.87 488.38,-6.96 488.69,58.23 489.00,55.90 489.32,89.36 489.63,36.51 489.94,73.26 490.26,109.78 490.57,73.10 490.88,45.07 491.20,75.02 491.51,63.33 491.82,-2.50 492.14,18.67 492.45,51.38 492.76,77.63 493.07,146.20 493.39,54.75 493.70,92.80 494.01,46.60 494.33,66.60 494.64,101.19 494.95,49.62 495.27,51.07 495.58,81.19 495.89,46.86 496.21,69.18 496.52,49.16 496.83,89.92 497.15,63.68 497.46,86.66 497.77,105.07 498.09,70.89 498.40,-23.18 498.71,127.42 499.03,75.30 499.34,88.66 499.65,76.94 499.97,47.29 500.28,60.95 500.59,67.69 500.91,57.73 501.22,68.81 501.53,18.04 501.85,68.68 502.16,41.59 502.47,64.66 502.79,38.88 503.10,38.15 503.41,36.99 503.73,39.87 504.04,54.74 504.35,77.32 504.67,-10.22 504.98,25.85 505.29,69.20 505.61,33.67 505.92,76.32 506.23,71.58 506.55,60.10 506.86,85.15 507.17,73.72 507.49,10.29 507.80,60.74 508.11,41.64 508.43,76.67 508.74,37.64 509.05,70.30 509.37,24.87 509.68,65.84 509.99,48.35 510.31,-39.09 510.62,34.50 510.93,33.43 511.25,57.90 511.56,34.05 511.87,36.27 512.19,62.17 512.50,55.31 512.81,61.62 513.12,111.17 513.44,63.79 513.75,101.84 514.06,83.15 514.38,123.01 514.69,117.34 515.00,77.82 515.32,54.47 515.63,126.70 515.94,46.05 516.26,41.49 516.57,70.83 516.88,68.97 517.20,60.42 517.51,52.02 517.82,45.34 518.14,111.70 518.45,93.62 518.76,76.52 519.08,80.79 519.39,73.80 519.70,62.56 520.02,63.51 520.33,113.62 520.64,119.86 520.96,53.01 521.27,46.80 521.58,44.37 521.90,10.86 522.21,107.64 522.52,61.04 522.84,32.85 523.15,98.99 523.46,75.47 523.78,44.87 524.09,72.58 524.40,53.44 524.72,54.39 525.03,83.43 525.34,55.92 525.66,77.43 525.97,74.64 526.28,51.76 526.60,83.60 526.91,40.91 527.22,50.63 527.54,91.88 527.85,42.91 528.16,50.87 528.48,38.04 528.79,33.55 529.10,35.27 529.42,58.60 529.73,32.81 530.04,51.14 530.36,43.58 530.67,10.88 530.98,26.44 531.30,34.61 531.61,27.79 531.92,81.99 532.24,15.86 532.55,39.91 532.86,26.13 533.17,47.29 533.49,80.83 533.80,58.19 534.11,6.97 534.43,46.55 534.74,39.93 535.05,119.40 535.37,11.63 535.68,94.74 535.99,62.71 536.31,68.14 536.62,51.35 536.93,33.20 537.25,71.57 537.56,48.45 537.87,64.18 538.19,66.73 538.50,67.25 538.81,90.60 539.13,74.86 539.44,-2.11 539.75,58.27 540.07,76.20 540.38,96.33 540.69,74.38 541.01,123.10 541.32,58.51 541.63,86.09 541.95,72.81 542.26,84.07 542.57,79.75 542.89,54.46 543.20,0.91" class="ob"/>
<polyline points="463.00,66.56 463.31,66.56 463.63,66.56 463.94,66.56 464.25,66.56 464.57,66.56 464.88,66.56 465.19,66.56 465.51,66.56 465.82,66.56 466.13,66.56 466.45,66.56 466.76,66.56 467.07,66.52 467.39,66.40 467.70,66.22 468.01,65.16 468.33,63.18 468.64,61.34 468.95,59.54 469.27,57.68 469.58,55.81 469.89,53.77 470.21,51.72 470.52,50.15 470.83,49.05 471.15,48.11 471.46,47.37 471.77,46.87 472.09,46.52 472.40,46.21 472.71,45.96 473.02,45.80 473.34,45.74 473.65,45.74 473.96,45.75 474.28,45.76 474.59,45.77 474.90,45.79 475.22,45.81 475.53,45.83 475.84,45.85 476.16,45.89 476.47,45.96 476.78,46.05 477.10,46.15 477.41,46.27 477.72,46.40 478.04,46.53 478.35,46.67 478.66,46.84 478.98,47.06 479.29,47.32 479.60,47.72 479.92,48.29 480.23,49.02 480.54,50.11 480.86,51.54 481.17,52.98 481.48,54.26 481.80,55.54 482.11,56.94 482.42,58.70 482.74,60.68 483.05,62.47 483.36,63.76 483.68,64.89 483.99,65.80 484.30,66.33 484.62,66.60 484.93,66.82 485.24,66.96 485.56,67.01 485.87,67.01 486.18,66.99 486.50,66.97 486.81,66.94 487.12,66.90 487.44,66.84 487.75,66.78 488.06,66.57 488.38,66.11 488.69,65.51 489.00,64.86 489.32,64.05 489.63,63.02 489.94,61.92 490.26,60.90 490.57,59.87 490.88,58.72 491.20,57.63 491.51,56.74 491.82,56.22 492.14,56.19 492.45,56.49 492.76,56.94 493.07,57.82 493.39,59.22 493.70,60.75 494.01,62.03 494.33,63.09 494.64,64.12 494.95,64.95 495.27,65.43 495.58,65.65 495.89,65.84 496.21,65.98 496.52,66.07 496.83,66.10 497.15,66.05 497.46,65.91 497.77,65.71 498.09,65.46 498.40,65.20 498.71,64.89 499.03,64.49 499.34,64.00 499.65,63.43 499.97,62.77 500.28,62.03 500.59,60.99 500.91,59.53 501.22,57.83 501.53,56.05 501.85,54.38 502.16,52.98 502.47,51.78 502.79,50.62 503.10,49.55 503.41,48.63 503.73,47.89 504.04,47.30 504.35,46.78 504.67,46.34 504.98,45.95 505.29,45.63 505.61,45.32 505.92,45.02 506.23,44.81 506.55,44.72 506.86,44.75 507.17,44.83 507.49,44.96 507.80,45.13 508.11,45.31 508.43,45.51 508.74,45.76 509.05,46.10 509.37,46.54 509.68,47.10 509.99,47.99 510.31,49.29 510.62,50.72 510.93,52.31 511.25,54.09 511.56,55.81 511.87,57.38 512.19,58.89 512.50,60.33 512.81,61.82 513.12,63.25 513.44,64.29 513.75,65.03 514.06,65.69 514.38,66.15 514.69,66.33 515.00,66.30 515.32,66.22 515.63,66.12 515.94,65.99 516.26,65.88 516.57,65.74 516.88,65.57 517.20,65.40 517.51,65.26 517.82,65.20 518.14,65.18 518.45,65.17 518.76,65.16 519.08,65.16 519.39,65.15 519.70,65.15 520.02,65.14 520.33,65.14 520.64,65.14 520.96,65.13 521.27,65.13 521.58,65.12 521.90,65.11 522.21,65.10 522.52,65.09 522.84,65.06 523.15,65.00 523.46,64.92 523.78,64.81 524.09,64.67 524.40,64.50 524.72,64.29 525.03,63.73 525.34,62.62 525.66,61.15 525.97,59.53 526.28,57.96 526.60,56.28 526.91,54.35 527.22,52.36 527.54,50.52 527.85,49.02 528.16,47.79 528.48,46.68 528.79,45.74 529.10,45.06 529.42,44.53 529.73,44.06 530.04,43.72 530.36,43.59 530.67,43.67 530.98,43.88 531.30,44.17 531.61,44.49 531.92,44.90 532.24,45.43 532.55,46.06 532.86,46.76 533.17,47.57 533.49,48.53 533.80,49.59 534.11,50.72 534.43,51.97 534.74,53.30 535.05,54.68 535.37,56.23 535.68,57.94 535.99,59.57 536.31,60.90 536.62,61.98 536.93,62.97 537.25,63.77 537.56,64.29 537.87,64.64 538.19,64.93 538.50,65.12 538.81,65.20 539.13,65.20 539.44,65.20 539.75,65.20 540.07,65.20 540.38,65.20 540.69,65.20 541.01,65.20 541.32,65.20 541.63,65.20 541.95,65.20 542.26,65.20 542.57,65.20 542.89,65.20 543.20,65.20" class="gt"/>
</g>
<rect x="467.8" y="74.8" width="71.6" height="20.8" class="lg"/>
<line x1="470.3" x2="495.7" y1="80.9" y2="80.9" class="obl"/>
<line x1="470.3" x2="495.7" y1="90.4" y2="90.4" class="gtl"/>
<text x="498.2" y="83.3" class="lt">Observed</text>
<text x="498.2" y="92.8" class="lt">Ground truth</text>
<rect x="463" y="21.3" width="80.2" height="79.2" class="ax"/>
<path d="M463 89.19h0.9M543.2 89.19h-0.9M463 66.56h0.9M543.2 66.56h-0.9M463 43.93h0.9M543.2 43.93h-0.9M463 21.3h0.9M543.2 21.3h-0.9M463 100.5v-0.9M463 21.3v0.9M494.33 100.5v-0.9M494.33 21.3v0.9M525.66 100.5v-0.9M525.66 21.3v0.9" class="tk"/>
<text x="460.6" y="91.79" class="yl">8</text>
<text x="460.6" y="69.16" class="yl">10</text>
<text x="460.6" y="46.53" class="yl">12</text>
<text x="460.6" y="23.9" class="yl">14</text>
<text x="463" y="110.6" class="xl">0</text>
<text x="494.33" y="110.6" class="xl">100</text>
<text x="525.66" y="110.6" class="xl">200</text>
<text x="503.1" y="121" class="lb">Time points</text>
<text transform="translate(449.6 61.9) rotate(-90)" class="lb" style="font-size:7.9px">Amplitude</text>
<g clip-path="url(#c14)"><polyline points="463.00,213.89 463.50,213.66 464.00,213.44 464.50,213.21 465.00,212.98 465.51,212.75 466.01,212.52 466.51,212.30 467.01,212.07 467.51,211.85 468.01,211.62 468.51,211.40 469.01,211.17 469.52,210.95 470.02,210.73 470.52,210.52 471.02,210.30 471.52,210.10 472.02,209.89 472.52,209.69 473.02,209.48 473.53,209.27 474.03,209.06 474.53,208.85 475.03,208.62 475.53,208.39 476.03,208.15 476.53,207.90 477.04,207.64 477.54,207.36 478.04,207.07 478.54,206.77 479.04,206.46 479.54,206.13 480.04,205.79 480.54,205.43 481.05,205.05 481.55,204.65 482.05,204.24 482.55,203.80 483.05,203.33 483.55,202.83 484.05,202.30 484.55,201.73 485.06,201.12 485.56,200.47 486.06,199.77 486.56,199.02 487.06,198.22 487.56,197.34 488.06,196.37 488.56,195.32 489.06,194.18 489.57,192.97 490.07,191.71 490.57,190.41 491.07,189.09 491.57,187.74 492.07,186.36 492.57,184.97 493.07,183.55 493.58,182.12 494.08,180.68 494.58,179.23 495.08,177.78 495.58,176.32 496.08,174.87 496.58,173.43 497.09,172.02 497.59,170.67 498.09,169.39 498.59,168.19 499.09,167.06 499.59,166.01 500.09,165.02 500.59,164.10 501.10,163.26 501.60,162.50 502.10,161.83 502.60,161.23 503.10,160.69 503.60,160.21 504.10,159.78 504.60,159.38 505.11,159.02 505.61,158.69 506.11,158.40 506.61,158.14 507.11,157.92 507.61,157.72 508.11,157.54 508.61,157.37 509.12,157.22 509.62,157.07 510.12,156.93 510.62,156.80 511.12,156.67 511.62,156.54 512.12,156.42 512.62,156.31 513.12,156.20 513.63,156.10 514.13,156.00 514.63,155.91 515.13,155.82 515.63,155.73 516.13,155.65 516.63,155.58 517.13,155.52 517.64,155.46 518.14,155.42 518.64,155.38 519.14,155.35 519.64,155.32 520.14,155.30 520.64,155.29 521.14,155.27 521.65,155.25 522.15,155.24 522.65,155.23 523.15,155.22 523.65,155.21 524.15,155.21 524.65,155.21 525.15,155.23 525.66,155.26 526.16,155.31 526.66,155.39 527.16,155.50 527.66,155.66 528.16,155.87 528.66,156.14 529.16,156.48 529.67,156.87 530.17,157.31 530.67,157.80 531.17,158.34 531.67,158.92 532.17,159.55 532.67,160.19 533.17,160.85 533.68,161.50 534.18,162.15 534.68,162.79 535.18,163.43 535.68,164.06 536.18,164.67 536.68,165.27 537.18,165.86 537.69,166.42 538.19,166.97 538.69,167.49 539.19,167.98 539.69,168.44 540.19,168.85 540.69,169.23 541.20,169.58 541.70,169.89 542.20,170.16 542.70,170.40 543.20,170.60" class="cv"/></g>
<rect x="463" y="137.5" width="80.2" height="79" class="ax"/>
<path d="M463 216.5h0.9M543.2 216.5h-0.9M463 177h0.9M543.2 177h-0.9M463 137.5h0.9M543.2 137.5h-0.9M463 216.5v-1.2M463 137.5v1.2M474.93 216.5v-1.2M474.93 137.5v1.2M486.86 216.5v-1.2M486.86 137.5v1.2M498.79 216.5v-1.2M498.79 137.5v1.2M510.72 216.5v-1.2M510.72 137.5v1.2M522.65 216.5v-1.2M522.65 137.5v1.2M534.58 216.5v-1.2M534.58 137.5v1.2" class="tk"/>
<path d="M466.59 216.5v-0.6M466.59 137.5v0.6M468.69 216.5v-0.6M468.69 137.5v0.6M470.18 216.5v-0.6M470.18 137.5v0.6M471.34 216.5v-0.6M471.34 137.5v0.6M472.28 216.5v-0.6M472.28 137.5v0.6M473.08 216.5v-0.6M473.08 137.5v0.6M473.77 216.5v-0.6M473.77 137.5v0.6M474.38 216.5v-0.6M474.38 137.5v0.6M478.52 216.5v-0.6M478.52 137.5v0.6M480.62 216.5v-0.6M480.62 137.5v0.6M482.11 216.5v-0.6M482.11 137.5v0.6M483.27 216.5v-0.6M483.27 137.5v0.6M484.21 216.5v-0.6M484.21 137.5v0.6M485.01 216.5v-0.6M485.01 137.5v0.6M485.70 216.5v-0.6M485.70 137.5v0.6M486.31 216.5v-0.6M486.31 137.5v0.6M490.45 216.5v-0.6M490.45 137.5v0.6M492.55 216.5v-0.6M492.55 137.5v0.6M494.04 216.5v-0.6M494.04 137.5v0.6M495.20 216.5v-0.6M495.20 137.5v0.6M496.14 216.5v-0.6M496.14 137.5v0.6M496.94 216.5v-0.6M496.94 137.5v0.6M497.63 216.5v-0.6M497.63 137.5v0.6M498.24 216.5v-0.6M498.24 137.5v0.6M502.38 216.5v-0.6M502.38 137.5v0.6M504.48 216.5v-0.6M504.48 137.5v0.6M505.97 216.5v-0.6M505.97 137.5v0.6M507.13 216.5v-0.6M507.13 137.5v0.6M508.07 216.5v-0.6M508.07 137.5v0.6M508.87 216.5v-0.6M508.87 137.5v0.6M509.56 216.5v-0.6M509.56 137.5v0.6M510.17 216.5v-0.6M510.17 137.5v0.6M514.31 216.5v-0.6M514.31 137.5v0.6M516.41 216.5v-0.6M516.41 137.5v0.6M517.90 216.5v-0.6M517.90 137.5v0.6M519.06 216.5v-0.6M519.06 137.5v0.6M520.00 216.5v-0.6M520.00 137.5v0.6M520.80 216.5v-0.6M520.80 137.5v0.6M521.49 216.5v-0.6M521.49 137.5v0.6M522.10 216.5v-0.6M522.10 137.5v0.6M526.24 216.5v-0.6M526.24 137.5v0.6M528.34 216.5v-0.6M528.34 137.5v0.6M529.83 216.5v-0.6M529.83 137.5v0.6M530.99 216.5v-0.6M530.99 137.5v0.6M531.93 216.5v-0.6M531.93 137.5v0.6M532.73 216.5v-0.6M532.73 137.5v0.6M533.42 216.5v-0.6M533.42 137.5v0.6M534.03 216.5v-0.6M534.03 137.5v0.6M538.17 216.5v-0.6M538.17 137.5v0.6M540.27 216.5v-0.6M540.27 137.5v0.6M541.76 216.5v-0.6M541.76 137.5v0.6" class="mt"/>
<path d="M463 137.5H543.2M463 216.5H543.2" class="hx"/>
<text x="460.6" y="219.1" class="yl">0</text>
<text x="460.6" y="179.6" class="yl">0.5</text>
<text x="460.6" y="140.1" class="yl">1</text>
<text x="462.7" y="228.3" class="xl xe">10<tspan class="sp" dy="-4">-6</tspan></text>
<text x="486.56" y="228.3" class="xl xe">10<tspan class="sp" dy="-4">-4</tspan></text>
<text x="510.42" y="228.3" class="xl xe">10<tspan class="sp" dy="-4">-2</tspan></text>
<text x="534.28" y="228.3" class="xl xe">10<tspan class="sp" dy="-4">0</tspan></text>
<text x="503.1" y="238.5" class="lam">λ</text>
<text transform="translate(447.3 177) rotate(-90)" class="lb" style="font-size:8.1px">Correlation value</text>
<text x="503.1" y="295.7" class="ti">SNR = 0.5</text>
<g clip-path="url(#c24)">
<polyline points="463.00,368.70 463.31,343.24 463.63,334.38 463.94,352.33 464.25,366.34 464.57,337.28 464.88,350.39 465.19,335.55 465.51,296.69 465.82,262.09 466.13,318.62 466.45,351.19 466.76,358.71 467.07,347.33 467.39,337.77 467.70,339.15 468.01,346.42 468.33,351.44 468.64,352.08 468.95,357.25 469.27,343.99 469.58,304.40 469.89,343.64 470.21,343.91 470.52,329.29 470.83,322.37 471.15,351.45 471.46,329.66 471.77,352.97 472.09,311.00 472.40,364.09 472.71,333.26 473.02,339.25 473.34,305.11 473.65,336.55 473.96,329.68 474.28,347.27 474.59,325.02 474.90,362.96 475.22,353.28 475.53,356.06 475.84,328.37 476.16,329.00 476.47,350.18 476.78,383.32 477.10,302.46 477.41,389.05 477.72,402.85 478.04,418.48 478.35,316.79 478.66,341.57 478.98,350.09 479.29,325.27 479.60,331.97 479.92,278.21 480.23,282.83 480.54,339.78 480.86,331.93 481.17,311.69 481.48,366.39 481.80,331.13 482.11,341.80 482.42,355.13 482.74,347.69 483.05,317.19 483.36,377.93 483.68,336.89 483.99,377.86 484.30,348.77 484.62,343.40 484.93,332.19 485.24,353.37 485.56,332.50 485.87,344.59 486.18,361.45 486.50,360.26 486.81,372.35 487.12,358.75 487.44,390.51 487.75,304.36 488.06,365.92 488.38,343.01 488.69,369.57 489.00,341.40 489.32,321.71 489.63,404.94 489.94,325.41 490.26,355.00 490.57,339.58 490.88,326.23 491.20,309.51 491.51,371.97 491.82,341.97 492.14,290.35 492.45,340.73 492.76,337.49 493.07,258.31 493.39,436.32 493.70,321.83 494.01,390.26 494.33,377.51 494.64,309.19 494.95,322.91 495.27,336.82 495.58,323.96 495.89,344.77 496.21,348.52 496.52,355.57 496.83,310.10 497.15,354.12 497.46,321.21 497.77,328.74 498.09,346.74 498.40,339.83 498.71,360.11 499.03,312.24 499.34,278.01 499.65,327.52 499.97,340.69 500.28,387.74 500.59,282.06 500.91,281.91 501.22,360.14 501.53,348.94 501.85,300.70 502.16,377.95 502.47,365.86 502.79,306.62 503.10,301.83 503.41,355.09 503.73,351.64 504.04,334.37 504.35,312.60 504.67,341.43 504.98,289.33 505.29,321.30 505.61,388.53 505.92,349.07 506.23,345.81 506.55,320.12 506.86,350.28 507.17,389.44 507.49,388.89 507.80,375.33 508.11,376.35 508.43,333.78 508.74,385.94 509.05,395.73 509.37,331.43 509.68,337.63 509.99,318.34 510.31,326.32 510.62,315.74 510.93,377.88 511.25,366.93 511.56,355.95 511.87,328.66 512.19,359.78 512.50,344.29 512.81,352.29 513.12,344.88 513.44,357.85 513.75,343.96 514.06,366.85 514.38,381.07 514.69,342.87 515.00,322.48 515.32,332.23 515.63,330.92 515.94,354.56 516.26,304.65 516.57,337.84 516.88,344.65 517.20,335.90 517.51,341.51 517.82,370.26 518.14,335.39 518.45,329.56 518.76,316.83 519.08,318.74 519.39,309.55 519.70,331.35 520.02,332.72 520.33,369.20 520.64,342.88 520.96,370.51 521.27,341.07 521.58,334.64 521.90,331.21 522.21,406.57 522.52,298.97 522.84,337.91 523.15,337.34 523.46,343.82 523.78,332.10 524.09,295.92 524.40,339.38 524.72,360.63 525.03,308.46 525.34,363.07 525.66,356.91 525.97,327.08 526.28,332.46 526.60,320.27 526.91,341.21 527.22,313.09 527.54,299.18 527.85,285.65 528.16,334.36 528.48,320.26 528.79,288.35 529.10,368.18 529.42,373.95 529.73,343.19 530.04,338.73 530.36,371.80 530.67,330.18 530.98,307.65 531.30,333.86 531.61,332.51 531.92,343.63 532.24,345.72 532.55,308.22 532.86,349.07 533.17,371.89 533.49,318.81 533.80,273.58 534.11,365.82 534.43,342.41 534.74,339.35 535.05,318.02 535.37,321.91 535.68,334.37 535.99,414.66 536.31,242.02 536.62,439.63 536.93,359.46 537.25,308.20 537.56,357.30 537.87,323.46 538.19,356.47 538.50,344.69 538.81,245.56 539.13,344.69 539.44,346.64 539.75,341.00 540.07,340.30 540.38,355.76 540.69,412.69 541.01,314.53 541.32,374.64 541.63,335.85 541.95,363.48 542.26,419.20 542.57,326.49 542.89,351.55 543.20,373.57" class="ob"/>
<polyline points="463.00,344.56 463.31,344.56 463.63,344.56 463.94,344.56 464.25,344.56 464.57,344.56 464.88,344.56 465.19,344.56 465.51,344.56 465.82,344.56 466.13,344.56 466.45,344.56 466.76,344.56 467.07,344.56 467.39,344.56 467.70,344.56 468.01,344.56 468.33,344.56 468.64,344.56 468.95,344.56 469.27,344.56 469.58,344.55 469.89,344.53 470.21,344.51 470.52,344.47 470.83,344.43 471.15,344.39 471.46,344.34 471.77,344.30 472.09,344.25 472.40,344.22 472.71,344.19 473.02,344.16 473.34,344.14 473.65,344.11 473.96,344.09 474.28,344.06 474.59,344.03 474.90,343.99 475.22,343.94 475.53,343.88 475.84,343.76 476.16,343.55 476.47,343.25 476.78,342.86 477.10,341.92 477.41,340.28 477.72,338.37 478.04,336.64 478.35,335.06 478.66,333.48 478.98,332.10 479.29,331.05 479.60,330.13 479.92,329.38 480.23,328.94 480.54,328.73 480.86,328.61 481.17,328.77 481.48,329.42 481.80,330.55 482.11,332.67 482.42,334.43 482.74,336.08 483.05,337.63 483.36,339.04 483.68,340.34 483.99,341.67 484.30,342.79 484.62,343.43 484.93,343.70 485.24,343.91 485.56,344.05 485.87,344.10 486.18,344.10 486.50,344.10 486.81,344.10 487.12,344.10 487.44,344.10 487.75,344.10 488.06,344.10 488.38,344.10 488.69,344.08 489.00,344.04 489.32,344.00 489.63,343.96 489.94,343.91 490.26,343.87 490.57,343.83 490.88,343.79 491.20,343.77 491.51,343.75 491.82,343.74 492.14,343.73 492.45,343.72 492.76,343.71 493.07,343.70 493.39,343.68 493.70,343.65 494.01,343.42 494.33,342.91 494.64,342.29 494.95,341.50 495.27,340.45 495.58,339.30 495.89,338.22 496.21,337.11 496.52,336.01 496.83,335.28 497.15,334.89 497.46,334.60 497.77,334.49 498.09,334.70 498.40,335.18 498.71,335.73 499.03,336.31 499.34,337.01 499.65,337.77 499.97,338.56 500.28,339.33 500.59,340.07 500.91,340.91 501.22,341.75 501.53,342.44 501.85,342.86 502.16,343.08 502.47,343.27 502.79,343.43 503.10,343.55 503.41,343.63 503.73,343.65 504.04,343.65 504.35,343.63 504.67,343.60 504.98,343.57 505.29,343.54 505.61,343.51 505.92,343.47 506.23,343.45 506.55,343.43 506.86,343.43 507.17,343.43 507.49,343.43 507.80,343.43 508.11,343.43 508.43,343.43 508.74,343.43 509.05,343.43 509.37,343.43 509.68,343.43 509.99,343.43 510.31,343.43 510.62,343.43 510.93,343.43 511.25,343.43 511.56,343.43 511.87,343.43 512.19,343.43 512.50,343.43 512.81,343.42 513.12,343.41 513.44,343.38 513.75,343.35 514.06,343.32 514.38,343.28 514.69,343.25 515.00,343.21 515.32,343.17 515.63,343.14 515.94,343.11 516.26,343.09 516.57,343.07 516.88,343.06 517.20,343.05 517.51,343.04 517.82,343.03 518.14,343.01 518.45,343.00 518.76,342.97 519.08,342.92 519.39,342.83 519.70,342.69 520.02,342.51 520.33,342.29 520.64,341.94 520.96,341.36 521.27,340.60 521.58,339.69 521.90,338.29 522.21,336.32 522.52,334.21 522.84,332.29 523.15,330.26 523.46,328.23 523.78,326.44 524.09,325.10 524.40,324.12 524.72,323.32 525.03,322.83 525.34,322.55 525.66,322.35 525.97,322.27 526.28,322.48 526.60,322.99 526.91,323.63 527.22,324.50 527.54,325.72 527.85,327.14 528.16,328.60 528.48,330.16 528.79,331.88 529.10,333.63 529.42,335.38 529.73,337.29 530.04,339.08 530.36,340.37 530.67,341.25 530.98,342.02 531.30,342.65 531.61,343.06 531.92,343.23 532.24,343.31 532.55,343.37 532.86,343.41 533.17,343.43 533.49,343.41 533.80,343.35 534.11,343.27 534.43,343.17 534.74,343.05 535.05,342.93 535.37,342.79 535.68,342.67 535.99,342.55 536.31,342.45 536.62,342.37 536.93,342.31 537.25,342.29 537.56,342.29 537.87,342.29 538.19,342.29 538.50,342.29 538.81,342.29 539.13,342.29 539.44,342.29 539.75,342.29 540.07,342.29 540.38,342.29 540.69,342.29 541.01,342.29 541.32,342.29 541.63,342.29 541.95,342.29 542.26,342.29 542.57,342.29 542.89,342.29 543.20,342.29" class="gt"/>
</g>
<rect x="467.8" y="352.8" width="71.6" height="20.8" class="lg"/>
<line x1="470.3" x2="495.7" y1="358.9" y2="358.9" class="obl"/>
<line x1="470.3" x2="495.7" y1="368.4" y2="368.4" class="gtl"/>
<text x="498.2" y="361.3" class="lt">Observed</text>
<text x="498.2" y="370.8" class="lt">Ground truth</text>
<rect x="463" y="299.3" width="80.2" height="79.2" class="ax"/>
<path d="M463 367.19h0.9M543.2 367.19h-0.9M463 344.56h0.9M543.2 344.56h-0.9M463 321.93h0.9M543.2 321.93h-0.9M463 299.3h0.9M543.2 299.3h-0.9M463 378.5v-0.9M463 299.3v0.9M494.33 378.5v-0.9M494.33 299.3v0.9M525.66 378.5v-0.9M525.66 299.3v0.9" class="tk"/>
<text x="460.6" y="369.79" class="yl">8</text>
<text x="460.6" y="347.16" class="yl">10</text>
<text x="460.6" y="324.53" class="yl">12</text>
<text x="460.6" y="301.9" class="yl">14</text>
<text x="463" y="388.6" class="xl">0</text>
<text x="494.33" y="388.6" class="xl">100</text>
<text x="525.66" y="388.6" class="xl">200</text>
<text x="503.1" y="399" class="lb">Time points</text>
<text transform="translate(449.6 339.9) rotate(-90)" class="lb" style="font-size:7.9px">Amplitude</text>
<g clip-path="url(#c34)"><polyline points="463.00,492.14 463.50,491.97 464.00,491.81 464.50,491.66 465.00,491.50 465.51,491.35 466.01,491.21 466.51,491.07 467.01,490.94 467.51,490.81 468.01,490.69 468.51,490.57 469.01,490.46 469.52,490.35 470.02,490.26 470.52,490.17 471.02,490.09 471.52,490.01 472.02,489.94 472.52,489.87 473.02,489.80 473.53,489.73 474.03,489.66 474.53,489.59 475.03,489.51 475.53,489.43 476.03,489.34 476.53,489.24 477.04,489.14 477.54,489.03 478.04,488.90 478.54,488.77 479.04,488.63 479.54,488.48 480.04,488.32 480.54,488.14 481.05,487.96 481.55,487.76 482.05,487.55 482.55,487.32 483.05,487.07 483.55,486.80 484.05,486.50 484.55,486.18 485.06,485.83 485.56,485.46 486.06,485.07 486.56,484.65 487.06,484.21 487.56,483.75 488.06,483.26 488.56,482.74 489.06,482.18 489.57,481.58 490.07,480.94 490.57,480.26 491.07,479.54 491.57,478.79 492.07,478.01 492.57,477.19 493.07,476.35 493.58,475.47 494.08,474.54 494.58,473.57 495.08,472.56 495.58,471.52 496.08,470.46 496.58,469.40 497.09,468.34 497.59,467.28 498.09,466.21 498.59,465.15 499.09,464.09 499.59,463.04 500.09,462.02 500.59,461.05 501.10,460.14 501.60,459.31 502.10,458.54 502.60,457.84 503.10,457.18 503.60,456.58 504.10,456.01 504.60,455.49 505.11,455.02 505.61,454.59 506.11,454.22 506.61,453.88 507.11,453.59 507.61,453.32 508.11,453.08 508.61,452.85 509.12,452.64 509.62,452.44 510.12,452.25 510.62,452.06 511.12,451.87 511.62,451.69 512.12,451.52 512.62,451.36 513.12,451.21 513.63,451.08 514.13,450.96 514.63,450.86 515.13,450.77 515.63,450.69 516.13,450.62 516.63,450.56 517.13,450.51 517.64,450.47 518.14,450.45 518.64,450.44 519.14,450.45 519.64,450.47 520.14,450.50 520.64,450.54 521.14,450.59 521.65,450.64 522.15,450.70 522.65,450.78 523.15,450.87 523.65,450.98 524.15,451.12 524.65,451.28 525.15,451.48 525.66,451.70 526.16,451.96 526.66,452.24 527.16,452.56 527.66,452.92 528.16,453.34 528.66,453.84 529.16,454.39 529.67,455.01 530.17,455.67 530.67,456.35 531.17,457.04 531.67,457.72 532.17,458.40 532.67,459.06 533.17,459.71 533.68,460.36 534.18,461.01 534.68,461.65 535.18,462.27 535.68,462.88 536.18,463.45 536.68,464.01 537.18,464.54 537.69,465.04 538.19,465.53 538.69,465.99 539.19,466.44 539.69,466.87 540.19,467.28 540.69,467.67 541.20,468.04 541.70,468.38 542.20,468.69 542.70,468.99 543.20,469.27" class="cv"/></g>
<rect x="463" y="415.5" width="80.2" height="79" class="ax"/>
<path d="M463 494.5h0.9M543.2 494.5h-0.9M463 455h0.9M543.2 455h-0.9M463 415.5h0.9M543.2 415.5h-0.9M463 494.5v-1.2M463 415.5v1.2M474.93 494.5v-1.2M474.93 415.5v1.2M486.86 494.5v-1.2M486.86 415.5v1.2M498.79 494.5v-1.2M498.79 415.5v1.2M510.72 494.5v-1.2M510.72 415.5v1.2M522.65 494.5v-1.2M522.65 415.5v1.2M534.58 494.5v-1.2M534.58 415.5v1.2" class="tk"/>
<path d="M466.59 494.5v-0.6M466.59 415.5v0.6M468.69 494.5v-0.6M468.69 415.5v0.6M470.18 494.5v-0.6M470.18 415.5v0.6M471.34 494.5v-0.6M471.34 415.5v0.6M472.28 494.5v-0.6M472.28 415.5v0.6M473.08 494.5v-0.6M473.08 415.5v0.6M473.77 494.5v-0.6M473.77 415.5v0.6M474.38 494.5v-0.6M474.38 415.5v0.6M478.52 494.5v-0.6M478.52 415.5v0.6M480.62 494.5v-0.6M480.62 415.5v0.6M482.11 494.5v-0.6M482.11 415.5v0.6M483.27 494.5v-0.6M483.27 415.5v0.6M484.21 494.5v-0.6M484.21 415.5v0.6M485.01 494.5v-0.6M485.01 415.5v0.6M485.70 494.5v-0.6M485.70 415.5v0.6M486.31 494.5v-0.6M486.31 415.5v0.6M490.45 494.5v-0.6M490.45 415.5v0.6M492.55 494.5v-0.6M492.55 415.5v0.6M494.04 494.5v-0.6M494.04 415.5v0.6M495.20 494.5v-0.6M495.20 415.5v0.6M496.14 494.5v-0.6M496.14 415.5v0.6M496.94 494.5v-0.6M496.94 415.5v0.6M497.63 494.5v-0.6M497.63 415.5v0.6M498.24 494.5v-0.6M498.24 415.5v0.6M502.38 494.5v-0.6M502.38 415.5v0.6M504.48 494.5v-0.6M504.48 415.5v0.6M505.97 494.5v-0.6M505.97 415.5v0.6M507.13 494.5v-0.6M507.13 415.5v0.6M508.07 494.5v-0.6M508.07 415.5v0.6M508.87 494.5v-0.6M508.87 415.5v0.6M509.56 494.5v-0.6M509.56 415.5v0.6M510.17 494.5v-0.6M510.17 415.5v0.6M514.31 494.5v-0.6M514.31 415.5v0.6M516.41 494.5v-0.6M516.41 415.5v0.6M517.90 494.5v-0.6M517.90 415.5v0.6M519.06 494.5v-0.6M519.06 415.5v0.6M520.00 494.5v-0.6M520.00 415.5v0.6M520.80 494.5v-0.6M520.80 415.5v0.6M521.49 494.5v-0.6M521.49 415.5v0.6M522.10 494.5v-0.6M522.10 415.5v0.6M526.24 494.5v-0.6M526.24 415.5v0.6M528.34 494.5v-0.6M528.34 415.5v0.6M529.83 494.5v-0.6M529.83 415.5v0.6M530.99 494.5v-0.6M530.99 415.5v0.6M531.93 494.5v-0.6M531.93 415.5v0.6M532.73 494.5v-0.6M532.73 415.5v0.6M533.42 494.5v-0.6M533.42 415.5v0.6M534.03 494.5v-0.6M534.03 415.5v0.6M538.17 494.5v-0.6M538.17 415.5v0.6M540.27 494.5v-0.6M540.27 415.5v0.6M541.76 494.5v-0.6M541.76 415.5v0.6" class="mt"/>
<path d="M463 415.5H543.2M463 494.5H543.2" class="hx"/>
<text x="460.6" y="497.1" class="yl">0</text>
<text x="460.6" y="457.6" class="yl">0.5</text>
<text x="460.6" y="418.1" class="yl">1</text>
<text x="462.7" y="506.3" class="xl xe">10<tspan class="sp" dy="-4">-6</tspan></text>
<text x="486.56" y="506.3" class="xl xe">10<tspan class="sp" dy="-4">-4</tspan></text>
<text x="510.42" y="506.3" class="xl xe">10<tspan class="sp" dy="-4">-2</tspan></text>
<text x="534.28" y="506.3" class="xl xe">10<tspan class="sp" dy="-4">0</tspan></text>
<text x="503.1" y="516.5" class="lam">λ</text>
<text transform="translate(447.3 455) rotate(-90)" class="lb" style="font-size:8.1px">Correlation value</text>
<text x="276.8" y="262" class="cap">(a)</text>
<text x="277" y="535.8" class="cap">(b)</text>
</svg></body></html>
